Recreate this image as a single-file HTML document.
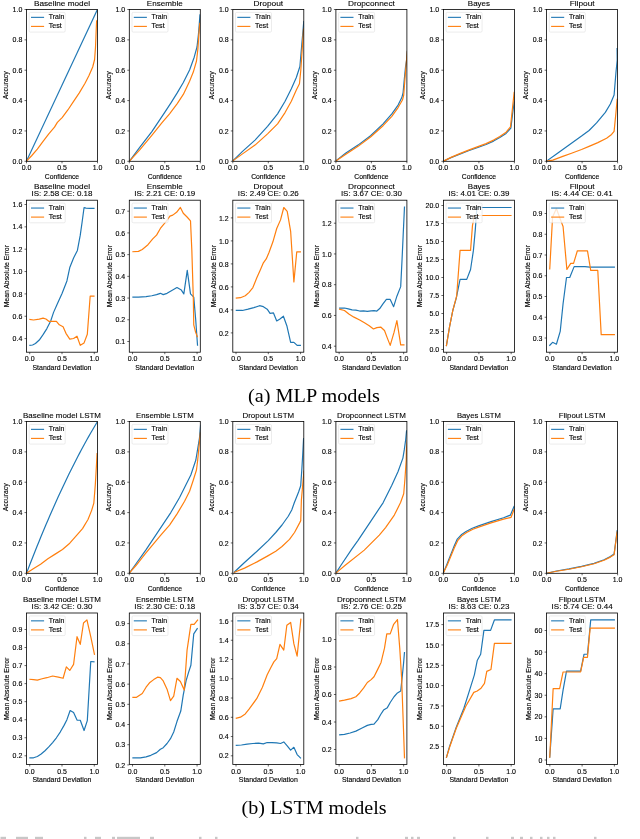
<!DOCTYPE html>
<html><head><meta charset="utf-8"><style>
html,body{margin:0;padding:0;background:#fff;}
body{width:640px;height:839px;overflow:hidden;}
svg{display:block;font-family:"Liberation Sans",sans-serif;will-change:transform;}
text{fill:#000;stroke:#000;stroke-width:0.12px;}
text.t{stroke-width:0.1px;}
</style></head><body>
<svg width="640" height="839" viewBox="0 0 640 839">
<rect width="640" height="839" fill="#fff"/>
<g>
<clipPath id="c00"><rect x="26.5" y="9.5" width="71.0" height="151.8"/></clipPath>
<polyline clip-path="url(#c00)" points="26.48,161.09 97.42,9.48" fill="none" stroke="#1f77b4" stroke-width="1.2" stroke-linejoin="round" stroke-linecap="butt"/>
<polyline clip-path="url(#c00)" points="26.48,161.09 31.63,155.75 37.35,149.07 43.07,141.45 48.79,133.82 54.51,127.14 57.37,122.38 62.14,117.61 67.86,109.98 73.58,101.40 79.30,92.82 85.03,83.28 89.00,75.40 92.70,67.00 94.60,59.50 95.50,47.30 96.00,35.10 96.60,21.10 97.40,20.00" fill="none" stroke="#ff7f0e" stroke-width="1.2" stroke-linejoin="round" stroke-linecap="butt"/>
<rect x="26.5" y="9.5" width="71.0" height="151.80" fill="none" stroke="#000" stroke-width="0.8"/>
<line x1="26.50" y1="161.30" x2="26.50" y2="163.30" stroke="#000" stroke-width="0.6"/>
<text x="26.50" y="170.45" font-size="6.46" text-anchor="middle" textLength="9.70" lengthAdjust="spacingAndGlyphs">0.0</text>
<line x1="62.00" y1="161.30" x2="62.00" y2="163.30" stroke="#000" stroke-width="0.6"/>
<text x="62.00" y="170.45" font-size="6.46" text-anchor="middle" textLength="9.70" lengthAdjust="spacingAndGlyphs">0.5</text>
<line x1="97.50" y1="161.30" x2="97.50" y2="163.30" stroke="#000" stroke-width="0.6"/>
<text x="97.50" y="170.45" font-size="6.46" text-anchor="middle" textLength="9.70" lengthAdjust="spacingAndGlyphs">1.0</text>
<line x1="24.50" y1="161.30" x2="26.50" y2="161.30" stroke="#000" stroke-width="0.6"/>
<text x="22.30" y="163.93" font-size="6.46" text-anchor="end" textLength="9.70" lengthAdjust="spacingAndGlyphs">0.0</text>
<line x1="24.50" y1="130.94" x2="26.50" y2="130.94" stroke="#000" stroke-width="0.6"/>
<text x="22.30" y="133.56" font-size="6.46" text-anchor="end" textLength="9.70" lengthAdjust="spacingAndGlyphs">0.2</text>
<line x1="24.50" y1="100.58" x2="26.50" y2="100.58" stroke="#000" stroke-width="0.6"/>
<text x="22.30" y="103.21" font-size="6.46" text-anchor="end" textLength="9.70" lengthAdjust="spacingAndGlyphs">0.4</text>
<line x1="24.50" y1="70.22" x2="26.50" y2="70.22" stroke="#000" stroke-width="0.6"/>
<text x="22.30" y="72.85" font-size="6.46" text-anchor="end" textLength="9.70" lengthAdjust="spacingAndGlyphs">0.6</text>
<line x1="24.50" y1="39.86" x2="26.50" y2="39.86" stroke="#000" stroke-width="0.6"/>
<text x="22.30" y="42.48" font-size="6.46" text-anchor="end" textLength="9.70" lengthAdjust="spacingAndGlyphs">0.8</text>
<line x1="24.50" y1="9.50" x2="26.50" y2="9.50" stroke="#000" stroke-width="0.6"/>
<text x="22.30" y="12.12" font-size="6.46" text-anchor="end" textLength="9.70" lengthAdjust="spacingAndGlyphs">1.0</text>
<text x="62.00" y="179.10" font-size="6.46" text-anchor="middle" textLength="34.30" lengthAdjust="spacingAndGlyphs">Confidence</text>
<text x="8.10" y="85.40" font-size="6.46" text-anchor="middle" textLength="27.96" lengthAdjust="spacingAndGlyphs" transform="rotate(-90 8.10 85.40)">Accuracy</text>
<text x="62.00" y="5.70" font-size="7.76" text-anchor="middle" textLength="56.15" lengthAdjust="spacingAndGlyphs" class="t">Baseline model</text>
<rect x="29.20" y="12.40" width="36.00" height="19.7" rx="1.2" fill="#fff" fill-opacity="0.8" stroke="#d8d8d8" stroke-width="0.5"/>
<line x1="31.00" y1="17.35" x2="44.10" y2="17.35" stroke="#1f77b4" stroke-width="1.1"/>
<line x1="31.00" y1="26.40" x2="44.10" y2="26.40" stroke="#ff7f0e" stroke-width="1.1"/>
<text x="48.80" y="19.40" font-size="6.46" text-anchor="start" textLength="15.53" lengthAdjust="spacingAndGlyphs">Train</text>
<text x="48.80" y="28.45" font-size="6.46" text-anchor="start" textLength="13.05" lengthAdjust="spacingAndGlyphs">Test</text>
<clipPath id="c20"><rect x="26.5" y="421.5" width="71.0" height="151.79999999999995"/></clipPath>
<polyline clip-path="url(#c20)" points="26.50,573.30 28.27,568.65 30.05,564.05 31.82,559.49 33.60,554.98 35.38,550.51 37.15,546.08 38.92,541.69 40.70,537.35 42.48,533.06 44.25,528.80 46.03,524.59 47.80,520.43 49.58,516.31 51.35,512.23 53.12,508.19 54.90,504.20 56.67,500.25 58.45,496.35 60.23,492.49 62.00,488.67 63.77,484.90 65.55,481.17 67.32,477.48 69.10,473.84 70.88,470.24 72.65,466.69 74.43,463.18 76.20,459.71 77.97,456.28 79.75,452.90 81.53,449.57 83.30,446.27 85.07,443.02 86.85,439.82 88.62,436.66 90.40,433.54 92.17,430.46 93.95,427.43 95.72,424.44 97.50,421.50" fill="none" stroke="#1f77b4" stroke-width="1.2" stroke-linejoin="round" stroke-linecap="butt"/>
<polyline clip-path="url(#c20)" points="26.36,573.27 33.29,568.71 40.59,564.15 47.88,558.68 55.18,554.12 62.47,549.56 69.77,543.18 77.06,534.97 82.53,528.59 88.00,519.47 91.65,510.36 93.84,503.06 95.30,484.83 96.39,466.59 97.12,452.91" fill="none" stroke="#ff7f0e" stroke-width="1.2" stroke-linejoin="round" stroke-linecap="butt"/>
<rect x="26.5" y="421.5" width="71.0" height="151.80" fill="none" stroke="#000" stroke-width="0.8"/>
<line x1="26.50" y1="573.30" x2="26.50" y2="575.30" stroke="#000" stroke-width="0.6"/>
<text x="26.50" y="582.45" font-size="6.46" text-anchor="middle" textLength="9.70" lengthAdjust="spacingAndGlyphs">0.0</text>
<line x1="62.00" y1="573.30" x2="62.00" y2="575.30" stroke="#000" stroke-width="0.6"/>
<text x="62.00" y="582.45" font-size="6.46" text-anchor="middle" textLength="9.70" lengthAdjust="spacingAndGlyphs">0.5</text>
<line x1="97.50" y1="573.30" x2="97.50" y2="575.30" stroke="#000" stroke-width="0.6"/>
<text x="97.50" y="582.45" font-size="6.46" text-anchor="middle" textLength="9.70" lengthAdjust="spacingAndGlyphs">1.0</text>
<line x1="24.50" y1="573.30" x2="26.50" y2="573.30" stroke="#000" stroke-width="0.6"/>
<text x="22.30" y="575.92" font-size="6.46" text-anchor="end" textLength="9.70" lengthAdjust="spacingAndGlyphs">0.0</text>
<line x1="24.50" y1="542.94" x2="26.50" y2="542.94" stroke="#000" stroke-width="0.6"/>
<text x="22.30" y="545.56" font-size="6.46" text-anchor="end" textLength="9.70" lengthAdjust="spacingAndGlyphs">0.2</text>
<line x1="24.50" y1="512.58" x2="26.50" y2="512.58" stroke="#000" stroke-width="0.6"/>
<text x="22.30" y="515.20" font-size="6.46" text-anchor="end" textLength="9.70" lengthAdjust="spacingAndGlyphs">0.4</text>
<line x1="24.50" y1="482.22" x2="26.50" y2="482.22" stroke="#000" stroke-width="0.6"/>
<text x="22.30" y="484.84" font-size="6.46" text-anchor="end" textLength="9.70" lengthAdjust="spacingAndGlyphs">0.6</text>
<line x1="24.50" y1="451.86" x2="26.50" y2="451.86" stroke="#000" stroke-width="0.6"/>
<text x="22.30" y="454.49" font-size="6.46" text-anchor="end" textLength="9.70" lengthAdjust="spacingAndGlyphs">0.8</text>
<line x1="24.50" y1="421.50" x2="26.50" y2="421.50" stroke="#000" stroke-width="0.6"/>
<text x="22.30" y="424.12" font-size="6.46" text-anchor="end" textLength="9.70" lengthAdjust="spacingAndGlyphs">1.0</text>
<text x="62.00" y="591.10" font-size="6.46" text-anchor="middle" textLength="34.30" lengthAdjust="spacingAndGlyphs">Confidence</text>
<text x="8.10" y="497.40" font-size="6.46" text-anchor="middle" textLength="27.96" lengthAdjust="spacingAndGlyphs" transform="rotate(-90 8.10 497.40)">Accuracy</text>
<text x="62.00" y="417.70" font-size="7.76" text-anchor="middle" textLength="77.99" lengthAdjust="spacingAndGlyphs" class="t">Baseline model LSTM</text>
<rect x="29.20" y="424.40" width="36.00" height="19.7" rx="1.2" fill="#fff" fill-opacity="0.8" stroke="#d8d8d8" stroke-width="0.5"/>
<line x1="31.00" y1="429.35" x2="44.10" y2="429.35" stroke="#1f77b4" stroke-width="1.1"/>
<line x1="31.00" y1="438.40" x2="44.10" y2="438.40" stroke="#ff7f0e" stroke-width="1.1"/>
<text x="48.80" y="431.40" font-size="6.46" text-anchor="start" textLength="15.53" lengthAdjust="spacingAndGlyphs">Train</text>
<text x="48.80" y="440.45" font-size="6.46" text-anchor="start" textLength="13.05" lengthAdjust="spacingAndGlyphs">Test</text>
<clipPath id="c01"><rect x="129.3" y="9.5" width="71.0" height="151.8"/></clipPath>
<polyline clip-path="url(#c01)" points="129.50,161.13 139.52,147.61 152.03,131.34 164.55,112.57 170.80,103.18 177.06,93.17 183.32,82.53 189.58,70.01 194.20,57.20 197.00,47.00 198.40,34.90 199.30,23.70 200.00,14.40" fill="none" stroke="#1f77b4" stroke-width="1.2" stroke-linejoin="round" stroke-linecap="butt"/>
<polyline clip-path="url(#c01)" points="129.50,161.13 139.52,150.11 152.03,135.09 162.04,122.58 169.55,113.82 177.06,103.80 183.32,94.42 189.58,81.28 193.30,72.10 196.50,61.00 197.90,48.90 198.80,34.90 199.80,22.80" fill="none" stroke="#ff7f0e" stroke-width="1.2" stroke-linejoin="round" stroke-linecap="butt"/>
<rect x="129.3" y="9.5" width="71.0" height="151.80" fill="none" stroke="#000" stroke-width="0.8"/>
<line x1="129.30" y1="161.30" x2="129.30" y2="163.30" stroke="#000" stroke-width="0.6"/>
<text x="129.30" y="170.45" font-size="6.46" text-anchor="middle" textLength="9.70" lengthAdjust="spacingAndGlyphs">0.0</text>
<line x1="164.80" y1="161.30" x2="164.80" y2="163.30" stroke="#000" stroke-width="0.6"/>
<text x="164.80" y="170.45" font-size="6.46" text-anchor="middle" textLength="9.70" lengthAdjust="spacingAndGlyphs">0.5</text>
<line x1="200.30" y1="161.30" x2="200.30" y2="163.30" stroke="#000" stroke-width="0.6"/>
<text x="200.30" y="170.45" font-size="6.46" text-anchor="middle" textLength="9.70" lengthAdjust="spacingAndGlyphs">1.0</text>
<line x1="127.30" y1="161.30" x2="129.30" y2="161.30" stroke="#000" stroke-width="0.6"/>
<text x="125.10" y="163.93" font-size="6.46" text-anchor="end" textLength="9.70" lengthAdjust="spacingAndGlyphs">0.0</text>
<line x1="127.30" y1="130.94" x2="129.30" y2="130.94" stroke="#000" stroke-width="0.6"/>
<text x="125.10" y="133.56" font-size="6.46" text-anchor="end" textLength="9.70" lengthAdjust="spacingAndGlyphs">0.2</text>
<line x1="127.30" y1="100.58" x2="129.30" y2="100.58" stroke="#000" stroke-width="0.6"/>
<text x="125.10" y="103.21" font-size="6.46" text-anchor="end" textLength="9.70" lengthAdjust="spacingAndGlyphs">0.4</text>
<line x1="127.30" y1="70.22" x2="129.30" y2="70.22" stroke="#000" stroke-width="0.6"/>
<text x="125.10" y="72.85" font-size="6.46" text-anchor="end" textLength="9.70" lengthAdjust="spacingAndGlyphs">0.6</text>
<line x1="127.30" y1="39.86" x2="129.30" y2="39.86" stroke="#000" stroke-width="0.6"/>
<text x="125.10" y="42.48" font-size="6.46" text-anchor="end" textLength="9.70" lengthAdjust="spacingAndGlyphs">0.8</text>
<line x1="127.30" y1="9.50" x2="129.30" y2="9.50" stroke="#000" stroke-width="0.6"/>
<text x="125.10" y="12.12" font-size="6.46" text-anchor="end" textLength="9.70" lengthAdjust="spacingAndGlyphs">1.0</text>
<text x="164.80" y="179.10" font-size="6.46" text-anchor="middle" textLength="34.30" lengthAdjust="spacingAndGlyphs">Confidence</text>
<text x="110.90" y="85.40" font-size="6.46" text-anchor="middle" textLength="27.96" lengthAdjust="spacingAndGlyphs" transform="rotate(-90 110.90 85.40)">Accuracy</text>
<text x="164.80" y="5.70" font-size="7.76" text-anchor="middle" textLength="35.90" lengthAdjust="spacingAndGlyphs" class="t">Ensemble</text>
<rect x="132.00" y="12.40" width="36.00" height="19.7" rx="1.2" fill="#fff" fill-opacity="0.8" stroke="#d8d8d8" stroke-width="0.5"/>
<line x1="133.80" y1="17.35" x2="146.90" y2="17.35" stroke="#1f77b4" stroke-width="1.1"/>
<line x1="133.80" y1="26.40" x2="146.90" y2="26.40" stroke="#ff7f0e" stroke-width="1.1"/>
<text x="151.60" y="19.40" font-size="6.46" text-anchor="start" textLength="15.53" lengthAdjust="spacingAndGlyphs">Train</text>
<text x="151.60" y="28.45" font-size="6.46" text-anchor="start" textLength="13.05" lengthAdjust="spacingAndGlyphs">Test</text>
<clipPath id="c21"><rect x="129.3" y="421.5" width="71.0" height="151.79999999999995"/></clipPath>
<polyline clip-path="url(#c21)" points="129.29,573.09 135.14,565.01 145.77,550.11 158.29,531.34 170.80,512.57 179.57,497.55 185.82,485.03 190.83,475.02 195.84,460.00 199.47,438.07 200.61,424.72" fill="none" stroke="#1f77b4" stroke-width="1.2" stroke-linejoin="round" stroke-linecap="butt"/>
<polyline clip-path="url(#c21)" points="129.29,573.09 136.39,565.01 145.77,553.24 160.79,535.09 169.55,525.08 177.06,513.82 184.57,501.30 189.58,491.29 193.33,480.03 196.46,470.01 197.71,460.00 199.09,445.70 200.42,432.35" fill="none" stroke="#ff7f0e" stroke-width="1.2" stroke-linejoin="round" stroke-linecap="butt"/>
<rect x="129.3" y="421.5" width="71.0" height="151.80" fill="none" stroke="#000" stroke-width="0.8"/>
<line x1="129.30" y1="573.30" x2="129.30" y2="575.30" stroke="#000" stroke-width="0.6"/>
<text x="129.30" y="582.45" font-size="6.46" text-anchor="middle" textLength="9.70" lengthAdjust="spacingAndGlyphs">0.0</text>
<line x1="164.80" y1="573.30" x2="164.80" y2="575.30" stroke="#000" stroke-width="0.6"/>
<text x="164.80" y="582.45" font-size="6.46" text-anchor="middle" textLength="9.70" lengthAdjust="spacingAndGlyphs">0.5</text>
<line x1="200.30" y1="573.30" x2="200.30" y2="575.30" stroke="#000" stroke-width="0.6"/>
<text x="200.30" y="582.45" font-size="6.46" text-anchor="middle" textLength="9.70" lengthAdjust="spacingAndGlyphs">1.0</text>
<line x1="127.30" y1="573.30" x2="129.30" y2="573.30" stroke="#000" stroke-width="0.6"/>
<text x="125.10" y="575.92" font-size="6.46" text-anchor="end" textLength="9.70" lengthAdjust="spacingAndGlyphs">0.0</text>
<line x1="127.30" y1="542.94" x2="129.30" y2="542.94" stroke="#000" stroke-width="0.6"/>
<text x="125.10" y="545.56" font-size="6.46" text-anchor="end" textLength="9.70" lengthAdjust="spacingAndGlyphs">0.2</text>
<line x1="127.30" y1="512.58" x2="129.30" y2="512.58" stroke="#000" stroke-width="0.6"/>
<text x="125.10" y="515.20" font-size="6.46" text-anchor="end" textLength="9.70" lengthAdjust="spacingAndGlyphs">0.4</text>
<line x1="127.30" y1="482.22" x2="129.30" y2="482.22" stroke="#000" stroke-width="0.6"/>
<text x="125.10" y="484.84" font-size="6.46" text-anchor="end" textLength="9.70" lengthAdjust="spacingAndGlyphs">0.6</text>
<line x1="127.30" y1="451.86" x2="129.30" y2="451.86" stroke="#000" stroke-width="0.6"/>
<text x="125.10" y="454.49" font-size="6.46" text-anchor="end" textLength="9.70" lengthAdjust="spacingAndGlyphs">0.8</text>
<line x1="127.30" y1="421.50" x2="129.30" y2="421.50" stroke="#000" stroke-width="0.6"/>
<text x="125.10" y="424.12" font-size="6.46" text-anchor="end" textLength="9.70" lengthAdjust="spacingAndGlyphs">1.0</text>
<text x="164.80" y="591.10" font-size="6.46" text-anchor="middle" textLength="34.30" lengthAdjust="spacingAndGlyphs">Confidence</text>
<text x="110.90" y="497.40" font-size="6.46" text-anchor="middle" textLength="27.96" lengthAdjust="spacingAndGlyphs" transform="rotate(-90 110.90 497.40)">Accuracy</text>
<text x="164.80" y="417.70" font-size="7.76" text-anchor="middle" textLength="57.73" lengthAdjust="spacingAndGlyphs" class="t">Ensemble LSTM</text>
<rect x="132.00" y="424.40" width="36.00" height="19.7" rx="1.2" fill="#fff" fill-opacity="0.8" stroke="#d8d8d8" stroke-width="0.5"/>
<line x1="133.80" y1="429.35" x2="146.90" y2="429.35" stroke="#1f77b4" stroke-width="1.1"/>
<line x1="133.80" y1="438.40" x2="146.90" y2="438.40" stroke="#ff7f0e" stroke-width="1.1"/>
<text x="151.60" y="431.40" font-size="6.46" text-anchor="start" textLength="15.53" lengthAdjust="spacingAndGlyphs">Train</text>
<text x="151.60" y="440.45" font-size="6.46" text-anchor="start" textLength="13.05" lengthAdjust="spacingAndGlyphs">Test</text>
<clipPath id="c02"><rect x="232.8" y="9.5" width="71.0" height="151.8"/></clipPath>
<polyline clip-path="url(#c02)" points="232.50,161.13 242.52,151.36 255.03,140.10 267.55,126.33 277.56,113.82 285.07,101.30 291.33,88.79 296.33,77.52 299.90,66.50 301.80,44.20 303.20,28.40 303.80,21.00" fill="none" stroke="#1f77b4" stroke-width="1.2" stroke-linejoin="round" stroke-linecap="butt"/>
<polyline clip-path="url(#c02)" points="232.50,161.13 242.52,153.87 255.03,145.11 267.55,133.84 277.56,123.83 285.07,112.57 291.33,101.30 296.33,90.04 299.46,83.78 300.80,70.30 302.20,48.90 303.60,28.40" fill="none" stroke="#ff7f0e" stroke-width="1.2" stroke-linejoin="round" stroke-linecap="butt"/>
<rect x="232.8" y="9.5" width="71.0" height="151.80" fill="none" stroke="#000" stroke-width="0.8"/>
<line x1="232.80" y1="161.30" x2="232.80" y2="163.30" stroke="#000" stroke-width="0.6"/>
<text x="232.80" y="170.45" font-size="6.46" text-anchor="middle" textLength="9.70" lengthAdjust="spacingAndGlyphs">0.0</text>
<line x1="268.30" y1="161.30" x2="268.30" y2="163.30" stroke="#000" stroke-width="0.6"/>
<text x="268.30" y="170.45" font-size="6.46" text-anchor="middle" textLength="9.70" lengthAdjust="spacingAndGlyphs">0.5</text>
<line x1="303.80" y1="161.30" x2="303.80" y2="163.30" stroke="#000" stroke-width="0.6"/>
<text x="303.80" y="170.45" font-size="6.46" text-anchor="middle" textLength="9.70" lengthAdjust="spacingAndGlyphs">1.0</text>
<line x1="230.80" y1="161.30" x2="232.80" y2="161.30" stroke="#000" stroke-width="0.6"/>
<text x="228.60" y="163.93" font-size="6.46" text-anchor="end" textLength="9.70" lengthAdjust="spacingAndGlyphs">0.0</text>
<line x1="230.80" y1="130.94" x2="232.80" y2="130.94" stroke="#000" stroke-width="0.6"/>
<text x="228.60" y="133.56" font-size="6.46" text-anchor="end" textLength="9.70" lengthAdjust="spacingAndGlyphs">0.2</text>
<line x1="230.80" y1="100.58" x2="232.80" y2="100.58" stroke="#000" stroke-width="0.6"/>
<text x="228.60" y="103.21" font-size="6.46" text-anchor="end" textLength="9.70" lengthAdjust="spacingAndGlyphs">0.4</text>
<line x1="230.80" y1="70.22" x2="232.80" y2="70.22" stroke="#000" stroke-width="0.6"/>
<text x="228.60" y="72.85" font-size="6.46" text-anchor="end" textLength="9.70" lengthAdjust="spacingAndGlyphs">0.6</text>
<line x1="230.80" y1="39.86" x2="232.80" y2="39.86" stroke="#000" stroke-width="0.6"/>
<text x="228.60" y="42.48" font-size="6.46" text-anchor="end" textLength="9.70" lengthAdjust="spacingAndGlyphs">0.8</text>
<line x1="230.80" y1="9.50" x2="232.80" y2="9.50" stroke="#000" stroke-width="0.6"/>
<text x="228.60" y="12.12" font-size="6.46" text-anchor="end" textLength="9.70" lengthAdjust="spacingAndGlyphs">1.0</text>
<text x="268.30" y="179.10" font-size="6.46" text-anchor="middle" textLength="34.30" lengthAdjust="spacingAndGlyphs">Confidence</text>
<text x="214.40" y="85.40" font-size="6.46" text-anchor="middle" textLength="27.96" lengthAdjust="spacingAndGlyphs" transform="rotate(-90 214.40 85.40)">Accuracy</text>
<text x="268.30" y="5.70" font-size="7.76" text-anchor="middle" textLength="29.76" lengthAdjust="spacingAndGlyphs" class="t">Dropout</text>
<rect x="235.50" y="12.40" width="36.00" height="19.7" rx="1.2" fill="#fff" fill-opacity="0.8" stroke="#d8d8d8" stroke-width="0.5"/>
<line x1="237.30" y1="17.35" x2="250.40" y2="17.35" stroke="#1f77b4" stroke-width="1.1"/>
<line x1="237.30" y1="26.40" x2="250.40" y2="26.40" stroke="#ff7f0e" stroke-width="1.1"/>
<text x="255.10" y="19.40" font-size="6.46" text-anchor="start" textLength="15.53" lengthAdjust="spacingAndGlyphs">Train</text>
<text x="255.10" y="28.45" font-size="6.46" text-anchor="start" textLength="13.05" lengthAdjust="spacingAndGlyphs">Test</text>
<clipPath id="c22"><rect x="232.8" y="421.5" width="71.0" height="151.79999999999995"/></clipPath>
<polyline clip-path="url(#c22)" points="233.88,572.50 244.50,562.50 257.00,551.25 268.25,540.62 275.75,532.50 282.00,525.00 288.25,516.25 291.75,510.00 294.20,503.00 296.60,497.00 298.60,492.00 300.70,485.80 301.80,470.00 302.70,455.00 303.60,438.10" fill="none" stroke="#1f77b4" stroke-width="1.2" stroke-linejoin="round" stroke-linecap="butt"/>
<polyline clip-path="url(#c22)" points="233.88,572.50 244.50,568.12 257.00,561.88 268.25,555.62 275.75,551.25 282.00,546.50 289.50,539.38 294.50,532.50 299.50,523.12 300.75,520.62 301.38,500.00 303.99,470.49" fill="none" stroke="#ff7f0e" stroke-width="1.2" stroke-linejoin="round" stroke-linecap="butt"/>
<rect x="232.8" y="421.5" width="71.0" height="151.80" fill="none" stroke="#000" stroke-width="0.8"/>
<line x1="232.80" y1="573.30" x2="232.80" y2="575.30" stroke="#000" stroke-width="0.6"/>
<text x="232.80" y="582.45" font-size="6.46" text-anchor="middle" textLength="9.70" lengthAdjust="spacingAndGlyphs">0.0</text>
<line x1="268.30" y1="573.30" x2="268.30" y2="575.30" stroke="#000" stroke-width="0.6"/>
<text x="268.30" y="582.45" font-size="6.46" text-anchor="middle" textLength="9.70" lengthAdjust="spacingAndGlyphs">0.5</text>
<line x1="303.80" y1="573.30" x2="303.80" y2="575.30" stroke="#000" stroke-width="0.6"/>
<text x="303.80" y="582.45" font-size="6.46" text-anchor="middle" textLength="9.70" lengthAdjust="spacingAndGlyphs">1.0</text>
<line x1="230.80" y1="573.30" x2="232.80" y2="573.30" stroke="#000" stroke-width="0.6"/>
<text x="228.60" y="575.92" font-size="6.46" text-anchor="end" textLength="9.70" lengthAdjust="spacingAndGlyphs">0.0</text>
<line x1="230.80" y1="542.94" x2="232.80" y2="542.94" stroke="#000" stroke-width="0.6"/>
<text x="228.60" y="545.56" font-size="6.46" text-anchor="end" textLength="9.70" lengthAdjust="spacingAndGlyphs">0.2</text>
<line x1="230.80" y1="512.58" x2="232.80" y2="512.58" stroke="#000" stroke-width="0.6"/>
<text x="228.60" y="515.20" font-size="6.46" text-anchor="end" textLength="9.70" lengthAdjust="spacingAndGlyphs">0.4</text>
<line x1="230.80" y1="482.22" x2="232.80" y2="482.22" stroke="#000" stroke-width="0.6"/>
<text x="228.60" y="484.84" font-size="6.46" text-anchor="end" textLength="9.70" lengthAdjust="spacingAndGlyphs">0.6</text>
<line x1="230.80" y1="451.86" x2="232.80" y2="451.86" stroke="#000" stroke-width="0.6"/>
<text x="228.60" y="454.49" font-size="6.46" text-anchor="end" textLength="9.70" lengthAdjust="spacingAndGlyphs">0.8</text>
<line x1="230.80" y1="421.50" x2="232.80" y2="421.50" stroke="#000" stroke-width="0.6"/>
<text x="228.60" y="424.12" font-size="6.46" text-anchor="end" textLength="9.70" lengthAdjust="spacingAndGlyphs">1.0</text>
<text x="268.30" y="591.10" font-size="6.46" text-anchor="middle" textLength="34.30" lengthAdjust="spacingAndGlyphs">Confidence</text>
<text x="214.40" y="497.40" font-size="6.46" text-anchor="middle" textLength="27.96" lengthAdjust="spacingAndGlyphs" transform="rotate(-90 214.40 497.40)">Accuracy</text>
<text x="268.30" y="417.70" font-size="7.76" text-anchor="middle" textLength="51.60" lengthAdjust="spacingAndGlyphs" class="t">Dropout LSTM</text>
<rect x="235.50" y="424.40" width="36.00" height="19.7" rx="1.2" fill="#fff" fill-opacity="0.8" stroke="#d8d8d8" stroke-width="0.5"/>
<line x1="237.30" y1="429.35" x2="250.40" y2="429.35" stroke="#1f77b4" stroke-width="1.1"/>
<line x1="237.30" y1="438.40" x2="250.40" y2="438.40" stroke="#ff7f0e" stroke-width="1.1"/>
<text x="255.10" y="431.40" font-size="6.46" text-anchor="start" textLength="15.53" lengthAdjust="spacingAndGlyphs">Train</text>
<text x="255.10" y="440.45" font-size="6.46" text-anchor="start" textLength="13.05" lengthAdjust="spacingAndGlyphs">Test</text>
<clipPath id="c03"><rect x="335.9" y="9.5" width="71.0" height="151.8"/></clipPath>
<polyline clip-path="url(#c03)" points="335.50,161.13 345.52,153.24 358.03,145.11 370.55,135.72 383.06,123.83 391.82,113.82 398.08,105.06 401.84,97.55 403.09,92.54 404.34,78.77 405.59,66.26 406.59,60.00 407.37,50.86" fill="none" stroke="#1f77b4" stroke-width="1.2" stroke-linejoin="round" stroke-linecap="butt"/>
<polyline clip-path="url(#c03)" points="335.50,161.13 345.52,154.49 358.03,146.36 370.55,136.97 383.06,125.71 391.82,116.32 398.08,107.56 402.46,100.05 403.71,95.04 404.96,78.77 406.22,63.75 407.37,50.86" fill="none" stroke="#ff7f0e" stroke-width="1.2" stroke-linejoin="round" stroke-linecap="butt"/>
<rect x="335.9" y="9.5" width="71.0" height="151.80" fill="none" stroke="#000" stroke-width="0.8"/>
<line x1="335.90" y1="161.30" x2="335.90" y2="163.30" stroke="#000" stroke-width="0.6"/>
<text x="335.90" y="170.45" font-size="6.46" text-anchor="middle" textLength="9.70" lengthAdjust="spacingAndGlyphs">0.0</text>
<line x1="371.40" y1="161.30" x2="371.40" y2="163.30" stroke="#000" stroke-width="0.6"/>
<text x="371.40" y="170.45" font-size="6.46" text-anchor="middle" textLength="9.70" lengthAdjust="spacingAndGlyphs">0.5</text>
<line x1="406.90" y1="161.30" x2="406.90" y2="163.30" stroke="#000" stroke-width="0.6"/>
<text x="406.90" y="170.45" font-size="6.46" text-anchor="middle" textLength="9.70" lengthAdjust="spacingAndGlyphs">1.0</text>
<line x1="333.90" y1="161.30" x2="335.90" y2="161.30" stroke="#000" stroke-width="0.6"/>
<text x="331.70" y="163.93" font-size="6.46" text-anchor="end" textLength="9.70" lengthAdjust="spacingAndGlyphs">0.0</text>
<line x1="333.90" y1="130.94" x2="335.90" y2="130.94" stroke="#000" stroke-width="0.6"/>
<text x="331.70" y="133.56" font-size="6.46" text-anchor="end" textLength="9.70" lengthAdjust="spacingAndGlyphs">0.2</text>
<line x1="333.90" y1="100.58" x2="335.90" y2="100.58" stroke="#000" stroke-width="0.6"/>
<text x="331.70" y="103.21" font-size="6.46" text-anchor="end" textLength="9.70" lengthAdjust="spacingAndGlyphs">0.4</text>
<line x1="333.90" y1="70.22" x2="335.90" y2="70.22" stroke="#000" stroke-width="0.6"/>
<text x="331.70" y="72.85" font-size="6.46" text-anchor="end" textLength="9.70" lengthAdjust="spacingAndGlyphs">0.6</text>
<line x1="333.90" y1="39.86" x2="335.90" y2="39.86" stroke="#000" stroke-width="0.6"/>
<text x="331.70" y="42.48" font-size="6.46" text-anchor="end" textLength="9.70" lengthAdjust="spacingAndGlyphs">0.8</text>
<line x1="333.90" y1="9.50" x2="335.90" y2="9.50" stroke="#000" stroke-width="0.6"/>
<text x="331.70" y="12.12" font-size="6.46" text-anchor="end" textLength="9.70" lengthAdjust="spacingAndGlyphs">1.0</text>
<text x="371.40" y="179.10" font-size="6.46" text-anchor="middle" textLength="34.30" lengthAdjust="spacingAndGlyphs">Confidence</text>
<text x="317.50" y="85.40" font-size="6.46" text-anchor="middle" textLength="27.96" lengthAdjust="spacingAndGlyphs" transform="rotate(-90 317.50 85.40)">Accuracy</text>
<text x="371.40" y="5.70" font-size="7.76" text-anchor="middle" textLength="46.95" lengthAdjust="spacingAndGlyphs" class="t">Dropconnect</text>
<rect x="338.60" y="12.40" width="36.00" height="19.7" rx="1.2" fill="#fff" fill-opacity="0.8" stroke="#d8d8d8" stroke-width="0.5"/>
<line x1="340.40" y1="17.35" x2="353.50" y2="17.35" stroke="#1f77b4" stroke-width="1.1"/>
<line x1="340.40" y1="26.40" x2="353.50" y2="26.40" stroke="#ff7f0e" stroke-width="1.1"/>
<text x="358.20" y="19.40" font-size="6.46" text-anchor="start" textLength="15.53" lengthAdjust="spacingAndGlyphs">Train</text>
<text x="358.20" y="28.45" font-size="6.46" text-anchor="start" textLength="13.05" lengthAdjust="spacingAndGlyphs">Test</text>
<clipPath id="c23"><rect x="335.9" y="421.5" width="71.0" height="151.79999999999995"/></clipPath>
<polyline clip-path="url(#c23)" points="335.86,573.09 341.14,565.01 351.77,549.11 358.03,540.35 370.55,521.58 383.06,502.80 391.82,485.28 398.08,471.51 402.90,458.10 404.30,449.70 405.70,439.50 406.60,430.20" fill="none" stroke="#1f77b4" stroke-width="1.2" stroke-linejoin="round" stroke-linecap="butt"/>
<polyline clip-path="url(#c23)" points="335.86,573.09 345.52,565.01 364.29,550.11 379.31,535.09 385.57,527.58 394.33,515.07 400.58,502.55 403.71,493.79 404.96,478.77 406.22,460.00 406.42,449.51 407.37,439.98" fill="none" stroke="#ff7f0e" stroke-width="1.2" stroke-linejoin="round" stroke-linecap="butt"/>
<rect x="335.9" y="421.5" width="71.0" height="151.80" fill="none" stroke="#000" stroke-width="0.8"/>
<line x1="335.90" y1="573.30" x2="335.90" y2="575.30" stroke="#000" stroke-width="0.6"/>
<text x="335.90" y="582.45" font-size="6.46" text-anchor="middle" textLength="9.70" lengthAdjust="spacingAndGlyphs">0.0</text>
<line x1="371.40" y1="573.30" x2="371.40" y2="575.30" stroke="#000" stroke-width="0.6"/>
<text x="371.40" y="582.45" font-size="6.46" text-anchor="middle" textLength="9.70" lengthAdjust="spacingAndGlyphs">0.5</text>
<line x1="406.90" y1="573.30" x2="406.90" y2="575.30" stroke="#000" stroke-width="0.6"/>
<text x="406.90" y="582.45" font-size="6.46" text-anchor="middle" textLength="9.70" lengthAdjust="spacingAndGlyphs">1.0</text>
<line x1="333.90" y1="573.30" x2="335.90" y2="573.30" stroke="#000" stroke-width="0.6"/>
<text x="331.70" y="575.92" font-size="6.46" text-anchor="end" textLength="9.70" lengthAdjust="spacingAndGlyphs">0.0</text>
<line x1="333.90" y1="542.94" x2="335.90" y2="542.94" stroke="#000" stroke-width="0.6"/>
<text x="331.70" y="545.56" font-size="6.46" text-anchor="end" textLength="9.70" lengthAdjust="spacingAndGlyphs">0.2</text>
<line x1="333.90" y1="512.58" x2="335.90" y2="512.58" stroke="#000" stroke-width="0.6"/>
<text x="331.70" y="515.20" font-size="6.46" text-anchor="end" textLength="9.70" lengthAdjust="spacingAndGlyphs">0.4</text>
<line x1="333.90" y1="482.22" x2="335.90" y2="482.22" stroke="#000" stroke-width="0.6"/>
<text x="331.70" y="484.84" font-size="6.46" text-anchor="end" textLength="9.70" lengthAdjust="spacingAndGlyphs">0.6</text>
<line x1="333.90" y1="451.86" x2="335.90" y2="451.86" stroke="#000" stroke-width="0.6"/>
<text x="331.70" y="454.49" font-size="6.46" text-anchor="end" textLength="9.70" lengthAdjust="spacingAndGlyphs">0.8</text>
<line x1="333.90" y1="421.50" x2="335.90" y2="421.50" stroke="#000" stroke-width="0.6"/>
<text x="331.70" y="424.12" font-size="6.46" text-anchor="end" textLength="9.70" lengthAdjust="spacingAndGlyphs">1.0</text>
<text x="371.40" y="591.10" font-size="6.46" text-anchor="middle" textLength="34.30" lengthAdjust="spacingAndGlyphs">Confidence</text>
<text x="317.50" y="497.40" font-size="6.46" text-anchor="middle" textLength="27.96" lengthAdjust="spacingAndGlyphs" transform="rotate(-90 317.50 497.40)">Accuracy</text>
<text x="371.40" y="417.70" font-size="7.76" text-anchor="middle" textLength="68.79" lengthAdjust="spacingAndGlyphs" class="t">Dropconnect LSTM</text>
<rect x="338.60" y="424.40" width="36.00" height="19.7" rx="1.2" fill="#fff" fill-opacity="0.8" stroke="#d8d8d8" stroke-width="0.5"/>
<line x1="340.40" y1="429.35" x2="353.50" y2="429.35" stroke="#1f77b4" stroke-width="1.1"/>
<line x1="340.40" y1="438.40" x2="353.50" y2="438.40" stroke="#ff7f0e" stroke-width="1.1"/>
<text x="358.20" y="431.40" font-size="6.46" text-anchor="start" textLength="15.53" lengthAdjust="spacingAndGlyphs">Train</text>
<text x="358.20" y="440.45" font-size="6.46" text-anchor="start" textLength="13.05" lengthAdjust="spacingAndGlyphs">Test</text>
<clipPath id="c04"><rect x="443.4" y="9.5" width="71.0" height="151.8"/></clipPath>
<polyline clip-path="url(#c04)" points="443.50,161.13 451.01,157.62 459.77,154.12 468.53,150.74 478.55,147.23 486.06,144.48 493.57,141.10 499.82,137.60 506.08,133.47 510.84,128.21 512.59,113.82 514.22,101.30" fill="none" stroke="#1f77b4" stroke-width="1.2" stroke-linejoin="round" stroke-linecap="butt"/>
<polyline clip-path="url(#c04)" points="443.50,161.13 451.01,157.37 459.77,153.62 468.53,150.11 478.55,146.36 486.06,143.60 493.57,140.10 499.82,136.60 506.08,132.22 510.46,126.96 514.22,91.91" fill="none" stroke="#ff7f0e" stroke-width="1.2" stroke-linejoin="round" stroke-linecap="butt"/>
<rect x="443.4" y="9.5" width="71.0" height="151.80" fill="none" stroke="#000" stroke-width="0.8"/>
<line x1="443.40" y1="161.30" x2="443.40" y2="163.30" stroke="#000" stroke-width="0.6"/>
<text x="443.40" y="170.45" font-size="6.46" text-anchor="middle" textLength="9.70" lengthAdjust="spacingAndGlyphs">0.0</text>
<line x1="478.90" y1="161.30" x2="478.90" y2="163.30" stroke="#000" stroke-width="0.6"/>
<text x="478.90" y="170.45" font-size="6.46" text-anchor="middle" textLength="9.70" lengthAdjust="spacingAndGlyphs">0.5</text>
<line x1="514.40" y1="161.30" x2="514.40" y2="163.30" stroke="#000" stroke-width="0.6"/>
<text x="514.40" y="170.45" font-size="6.46" text-anchor="middle" textLength="9.70" lengthAdjust="spacingAndGlyphs">1.0</text>
<line x1="441.40" y1="161.30" x2="443.40" y2="161.30" stroke="#000" stroke-width="0.6"/>
<text x="439.20" y="163.93" font-size="6.46" text-anchor="end" textLength="9.70" lengthAdjust="spacingAndGlyphs">0.0</text>
<line x1="441.40" y1="130.94" x2="443.40" y2="130.94" stroke="#000" stroke-width="0.6"/>
<text x="439.20" y="133.56" font-size="6.46" text-anchor="end" textLength="9.70" lengthAdjust="spacingAndGlyphs">0.2</text>
<line x1="441.40" y1="100.58" x2="443.40" y2="100.58" stroke="#000" stroke-width="0.6"/>
<text x="439.20" y="103.21" font-size="6.46" text-anchor="end" textLength="9.70" lengthAdjust="spacingAndGlyphs">0.4</text>
<line x1="441.40" y1="70.22" x2="443.40" y2="70.22" stroke="#000" stroke-width="0.6"/>
<text x="439.20" y="72.85" font-size="6.46" text-anchor="end" textLength="9.70" lengthAdjust="spacingAndGlyphs">0.6</text>
<line x1="441.40" y1="39.86" x2="443.40" y2="39.86" stroke="#000" stroke-width="0.6"/>
<text x="439.20" y="42.48" font-size="6.46" text-anchor="end" textLength="9.70" lengthAdjust="spacingAndGlyphs">0.8</text>
<line x1="441.40" y1="9.50" x2="443.40" y2="9.50" stroke="#000" stroke-width="0.6"/>
<text x="439.20" y="12.12" font-size="6.46" text-anchor="end" textLength="9.70" lengthAdjust="spacingAndGlyphs">1.0</text>
<text x="478.90" y="179.10" font-size="6.46" text-anchor="middle" textLength="34.30" lengthAdjust="spacingAndGlyphs">Confidence</text>
<text x="425.00" y="85.40" font-size="6.46" text-anchor="middle" textLength="27.96" lengthAdjust="spacingAndGlyphs" transform="rotate(-90 425.00 85.40)">Accuracy</text>
<text x="478.90" y="5.70" font-size="7.76" text-anchor="middle" textLength="22.16" lengthAdjust="spacingAndGlyphs" class="t">Bayes</text>
<rect x="446.10" y="12.40" width="36.00" height="19.7" rx="1.2" fill="#fff" fill-opacity="0.8" stroke="#d8d8d8" stroke-width="0.5"/>
<line x1="447.90" y1="17.35" x2="461.00" y2="17.35" stroke="#1f77b4" stroke-width="1.1"/>
<line x1="447.90" y1="26.40" x2="461.00" y2="26.40" stroke="#ff7f0e" stroke-width="1.1"/>
<text x="465.70" y="19.40" font-size="6.46" text-anchor="start" textLength="15.53" lengthAdjust="spacingAndGlyphs">Train</text>
<text x="465.70" y="28.45" font-size="6.46" text-anchor="start" textLength="13.05" lengthAdjust="spacingAndGlyphs">Test</text>
<clipPath id="c24"><rect x="443.4" y="421.5" width="71.0" height="151.79999999999995"/></clipPath>
<polyline clip-path="url(#c24)" points="443.29,573.09 446.63,565.01 453.52,547.61 457.27,539.10 461.65,534.47 466.03,531.59 472.29,528.21 478.55,525.83 491.06,521.58 503.58,517.70 510.46,515.07 514.22,506.06" fill="none" stroke="#1f77b4" stroke-width="1.2" stroke-linejoin="round" stroke-linecap="butt"/>
<polyline clip-path="url(#c24)" points="443.29,573.09 447.26,565.01 454.14,548.24 457.90,540.35 462.28,535.47 466.66,532.59 472.91,529.21 478.55,527.08 491.06,522.83 503.58,519.07 511.09,517.32 514.22,509.06" fill="none" stroke="#ff7f0e" stroke-width="1.2" stroke-linejoin="round" stroke-linecap="butt"/>
<rect x="443.4" y="421.5" width="71.0" height="151.80" fill="none" stroke="#000" stroke-width="0.8"/>
<line x1="443.40" y1="573.30" x2="443.40" y2="575.30" stroke="#000" stroke-width="0.6"/>
<text x="443.40" y="582.45" font-size="6.46" text-anchor="middle" textLength="9.70" lengthAdjust="spacingAndGlyphs">0.0</text>
<line x1="478.90" y1="573.30" x2="478.90" y2="575.30" stroke="#000" stroke-width="0.6"/>
<text x="478.90" y="582.45" font-size="6.46" text-anchor="middle" textLength="9.70" lengthAdjust="spacingAndGlyphs">0.5</text>
<line x1="514.40" y1="573.30" x2="514.40" y2="575.30" stroke="#000" stroke-width="0.6"/>
<text x="514.40" y="582.45" font-size="6.46" text-anchor="middle" textLength="9.70" lengthAdjust="spacingAndGlyphs">1.0</text>
<line x1="441.40" y1="573.30" x2="443.40" y2="573.30" stroke="#000" stroke-width="0.6"/>
<text x="439.20" y="575.92" font-size="6.46" text-anchor="end" textLength="9.70" lengthAdjust="spacingAndGlyphs">0.0</text>
<line x1="441.40" y1="542.94" x2="443.40" y2="542.94" stroke="#000" stroke-width="0.6"/>
<text x="439.20" y="545.56" font-size="6.46" text-anchor="end" textLength="9.70" lengthAdjust="spacingAndGlyphs">0.2</text>
<line x1="441.40" y1="512.58" x2="443.40" y2="512.58" stroke="#000" stroke-width="0.6"/>
<text x="439.20" y="515.20" font-size="6.46" text-anchor="end" textLength="9.70" lengthAdjust="spacingAndGlyphs">0.4</text>
<line x1="441.40" y1="482.22" x2="443.40" y2="482.22" stroke="#000" stroke-width="0.6"/>
<text x="439.20" y="484.84" font-size="6.46" text-anchor="end" textLength="9.70" lengthAdjust="spacingAndGlyphs">0.6</text>
<line x1="441.40" y1="451.86" x2="443.40" y2="451.86" stroke="#000" stroke-width="0.6"/>
<text x="439.20" y="454.49" font-size="6.46" text-anchor="end" textLength="9.70" lengthAdjust="spacingAndGlyphs">0.8</text>
<line x1="441.40" y1="421.50" x2="443.40" y2="421.50" stroke="#000" stroke-width="0.6"/>
<text x="439.20" y="424.12" font-size="6.46" text-anchor="end" textLength="9.70" lengthAdjust="spacingAndGlyphs">1.0</text>
<text x="478.90" y="591.10" font-size="6.46" text-anchor="middle" textLength="34.30" lengthAdjust="spacingAndGlyphs">Confidence</text>
<text x="425.00" y="497.40" font-size="6.46" text-anchor="middle" textLength="27.96" lengthAdjust="spacingAndGlyphs" transform="rotate(-90 425.00 497.40)">Accuracy</text>
<text x="478.90" y="417.70" font-size="7.76" text-anchor="middle" textLength="44.00" lengthAdjust="spacingAndGlyphs" class="t">Bayes LSTM</text>
<rect x="446.10" y="424.40" width="36.00" height="19.7" rx="1.2" fill="#fff" fill-opacity="0.8" stroke="#d8d8d8" stroke-width="0.5"/>
<line x1="447.90" y1="429.35" x2="461.00" y2="429.35" stroke="#1f77b4" stroke-width="1.1"/>
<line x1="447.90" y1="438.40" x2="461.00" y2="438.40" stroke="#ff7f0e" stroke-width="1.1"/>
<text x="465.70" y="431.40" font-size="6.46" text-anchor="start" textLength="15.53" lengthAdjust="spacingAndGlyphs">Train</text>
<text x="465.70" y="440.45" font-size="6.46" text-anchor="start" textLength="13.05" lengthAdjust="spacingAndGlyphs">Test</text>
<clipPath id="c05"><rect x="546.6" y="9.5" width="71.0" height="151.8"/></clipPath>
<polyline clip-path="url(#c05)" points="546.50,161.13 556.52,153.99 569.03,144.98 581.55,136.10 589.06,130.46 596.57,122.95 605.33,112.32 610.33,104.06 614.09,95.04 615.96,72.52 617.22,60.00 617.10,48.10" fill="none" stroke="#1f77b4" stroke-width="1.2" stroke-linejoin="round" stroke-linecap="butt"/>
<polyline clip-path="url(#c05)" points="546.50,161.13 552.76,160.13 562.77,156.37 571.53,153.24 581.55,149.49 589.06,146.36 597.82,142.60 606.58,138.22 611.58,134.47 614.09,131.34 615.96,112.57 617.22,98.80" fill="none" stroke="#ff7f0e" stroke-width="1.2" stroke-linejoin="round" stroke-linecap="butt"/>
<rect x="546.6" y="9.5" width="71.0" height="151.80" fill="none" stroke="#000" stroke-width="0.8"/>
<line x1="546.60" y1="161.30" x2="546.60" y2="163.30" stroke="#000" stroke-width="0.6"/>
<text x="546.60" y="170.45" font-size="6.46" text-anchor="middle" textLength="9.70" lengthAdjust="spacingAndGlyphs">0.0</text>
<line x1="582.10" y1="161.30" x2="582.10" y2="163.30" stroke="#000" stroke-width="0.6"/>
<text x="582.10" y="170.45" font-size="6.46" text-anchor="middle" textLength="9.70" lengthAdjust="spacingAndGlyphs">0.5</text>
<line x1="617.60" y1="161.30" x2="617.60" y2="163.30" stroke="#000" stroke-width="0.6"/>
<text x="617.60" y="170.45" font-size="6.46" text-anchor="middle" textLength="9.70" lengthAdjust="spacingAndGlyphs">1.0</text>
<line x1="544.60" y1="161.30" x2="546.60" y2="161.30" stroke="#000" stroke-width="0.6"/>
<text x="542.40" y="163.93" font-size="6.46" text-anchor="end" textLength="9.70" lengthAdjust="spacingAndGlyphs">0.0</text>
<line x1="544.60" y1="130.94" x2="546.60" y2="130.94" stroke="#000" stroke-width="0.6"/>
<text x="542.40" y="133.56" font-size="6.46" text-anchor="end" textLength="9.70" lengthAdjust="spacingAndGlyphs">0.2</text>
<line x1="544.60" y1="100.58" x2="546.60" y2="100.58" stroke="#000" stroke-width="0.6"/>
<text x="542.40" y="103.21" font-size="6.46" text-anchor="end" textLength="9.70" lengthAdjust="spacingAndGlyphs">0.4</text>
<line x1="544.60" y1="70.22" x2="546.60" y2="70.22" stroke="#000" stroke-width="0.6"/>
<text x="542.40" y="72.85" font-size="6.46" text-anchor="end" textLength="9.70" lengthAdjust="spacingAndGlyphs">0.6</text>
<line x1="544.60" y1="39.86" x2="546.60" y2="39.86" stroke="#000" stroke-width="0.6"/>
<text x="542.40" y="42.48" font-size="6.46" text-anchor="end" textLength="9.70" lengthAdjust="spacingAndGlyphs">0.8</text>
<line x1="544.60" y1="9.50" x2="546.60" y2="9.50" stroke="#000" stroke-width="0.6"/>
<text x="542.40" y="12.12" font-size="6.46" text-anchor="end" textLength="9.70" lengthAdjust="spacingAndGlyphs">1.0</text>
<text x="582.10" y="179.10" font-size="6.46" text-anchor="middle" textLength="34.30" lengthAdjust="spacingAndGlyphs">Confidence</text>
<text x="528.20" y="85.40" font-size="6.46" text-anchor="middle" textLength="27.96" lengthAdjust="spacingAndGlyphs" transform="rotate(-90 528.20 85.40)">Accuracy</text>
<text x="582.10" y="5.70" font-size="7.76" text-anchor="middle" textLength="24.91" lengthAdjust="spacingAndGlyphs" class="t">Flipout</text>
<rect x="549.30" y="12.40" width="36.00" height="19.7" rx="1.2" fill="#fff" fill-opacity="0.8" stroke="#d8d8d8" stroke-width="0.5"/>
<line x1="551.10" y1="17.35" x2="564.20" y2="17.35" stroke="#1f77b4" stroke-width="1.1"/>
<line x1="551.10" y1="26.40" x2="564.20" y2="26.40" stroke="#ff7f0e" stroke-width="1.1"/>
<text x="568.90" y="19.40" font-size="6.46" text-anchor="start" textLength="15.53" lengthAdjust="spacingAndGlyphs">Train</text>
<text x="568.90" y="28.45" font-size="6.46" text-anchor="start" textLength="13.05" lengthAdjust="spacingAndGlyphs">Test</text>
<clipPath id="c25"><rect x="546.6" y="421.5" width="71.0" height="151.79999999999995"/></clipPath>
<polyline clip-path="url(#c25)" points="546.50,573.24 556.52,570.99 569.03,568.86 581.55,566.36 594.06,563.35 604.08,559.72 610.33,556.60 614.09,554.09 617.22,530.06" fill="none" stroke="#1f77b4" stroke-width="1.2" stroke-linejoin="round" stroke-linecap="butt"/>
<polyline clip-path="url(#c25)" points="546.50,573.24 556.52,571.24 569.03,569.24 581.55,566.73 594.06,563.73 604.08,560.23 610.33,557.10 614.09,554.72 617.22,531.31" fill="none" stroke="#ff7f0e" stroke-width="1.2" stroke-linejoin="round" stroke-linecap="butt"/>
<rect x="546.6" y="421.5" width="71.0" height="151.80" fill="none" stroke="#000" stroke-width="0.8"/>
<line x1="546.60" y1="573.30" x2="546.60" y2="575.30" stroke="#000" stroke-width="0.6"/>
<text x="546.60" y="582.45" font-size="6.46" text-anchor="middle" textLength="9.70" lengthAdjust="spacingAndGlyphs">0.0</text>
<line x1="582.10" y1="573.30" x2="582.10" y2="575.30" stroke="#000" stroke-width="0.6"/>
<text x="582.10" y="582.45" font-size="6.46" text-anchor="middle" textLength="9.70" lengthAdjust="spacingAndGlyphs">0.5</text>
<line x1="617.60" y1="573.30" x2="617.60" y2="575.30" stroke="#000" stroke-width="0.6"/>
<text x="617.60" y="582.45" font-size="6.46" text-anchor="middle" textLength="9.70" lengthAdjust="spacingAndGlyphs">1.0</text>
<line x1="544.60" y1="573.30" x2="546.60" y2="573.30" stroke="#000" stroke-width="0.6"/>
<text x="542.40" y="575.92" font-size="6.46" text-anchor="end" textLength="9.70" lengthAdjust="spacingAndGlyphs">0.0</text>
<line x1="544.60" y1="542.94" x2="546.60" y2="542.94" stroke="#000" stroke-width="0.6"/>
<text x="542.40" y="545.56" font-size="6.46" text-anchor="end" textLength="9.70" lengthAdjust="spacingAndGlyphs">0.2</text>
<line x1="544.60" y1="512.58" x2="546.60" y2="512.58" stroke="#000" stroke-width="0.6"/>
<text x="542.40" y="515.20" font-size="6.46" text-anchor="end" textLength="9.70" lengthAdjust="spacingAndGlyphs">0.4</text>
<line x1="544.60" y1="482.22" x2="546.60" y2="482.22" stroke="#000" stroke-width="0.6"/>
<text x="542.40" y="484.84" font-size="6.46" text-anchor="end" textLength="9.70" lengthAdjust="spacingAndGlyphs">0.6</text>
<line x1="544.60" y1="451.86" x2="546.60" y2="451.86" stroke="#000" stroke-width="0.6"/>
<text x="542.40" y="454.49" font-size="6.46" text-anchor="end" textLength="9.70" lengthAdjust="spacingAndGlyphs">0.8</text>
<line x1="544.60" y1="421.50" x2="546.60" y2="421.50" stroke="#000" stroke-width="0.6"/>
<text x="542.40" y="424.12" font-size="6.46" text-anchor="end" textLength="9.70" lengthAdjust="spacingAndGlyphs">1.0</text>
<text x="582.10" y="591.10" font-size="6.46" text-anchor="middle" textLength="34.30" lengthAdjust="spacingAndGlyphs">Confidence</text>
<text x="528.20" y="497.40" font-size="6.46" text-anchor="middle" textLength="27.96" lengthAdjust="spacingAndGlyphs" transform="rotate(-90 528.20 497.40)">Accuracy</text>
<text x="582.10" y="417.70" font-size="7.76" text-anchor="middle" textLength="46.75" lengthAdjust="spacingAndGlyphs" class="t">Flipout LSTM</text>
<rect x="549.30" y="424.40" width="36.00" height="19.7" rx="1.2" fill="#fff" fill-opacity="0.8" stroke="#d8d8d8" stroke-width="0.5"/>
<line x1="551.10" y1="429.35" x2="564.20" y2="429.35" stroke="#1f77b4" stroke-width="1.1"/>
<line x1="551.10" y1="438.40" x2="564.20" y2="438.40" stroke="#ff7f0e" stroke-width="1.1"/>
<text x="568.90" y="431.40" font-size="6.46" text-anchor="start" textLength="15.53" lengthAdjust="spacingAndGlyphs">Train</text>
<text x="568.90" y="440.45" font-size="6.46" text-anchor="start" textLength="13.05" lengthAdjust="spacingAndGlyphs">Test</text>
<clipPath id="c10"><rect x="26.5" y="200.2" width="71.0" height="152.0"/></clipPath>
<polyline clip-path="url(#c10)" points="29.34,345.37 32.58,344.99 35.44,343.46 39.26,340.03 43.07,334.69 46.88,328.59 50.70,320.96 53.56,312.38 57.37,303.79 62.14,293.31 66.91,280.91 69.77,267.56 73.58,258.03 77.40,250.40 80.26,235.14 82.16,221.79 84.07,207.49 85.98,208.06 89.79,208.44 94.56,208.44" fill="none" stroke="#1f77b4" stroke-width="1.2" stroke-linejoin="round" stroke-linecap="butt"/>
<polyline clip-path="url(#c10)" points="29.34,319.43 33.54,320.00 39.26,319.05 43.07,318.10 45.93,319.05 48.79,321.34 52.61,321.34 56.42,321.34 59.28,324.77 63.09,326.68 65.95,333.35 69.77,339.07 73.58,338.50 77.02,336.21 80.26,345.37 84.07,342.89 87.31,334.31 90.17,296.17 94.56,296.17" fill="none" stroke="#ff7f0e" stroke-width="1.2" stroke-linejoin="round" stroke-linecap="butt"/>
<rect x="26.5" y="200.2" width="71.0" height="152.00" fill="none" stroke="#000" stroke-width="0.8"/>
<line x1="29.73" y1="352.20" x2="29.73" y2="354.20" stroke="#000" stroke-width="0.6"/>
<text x="29.73" y="361.35" font-size="6.46" text-anchor="middle" textLength="9.70" lengthAdjust="spacingAndGlyphs">0.0</text>
<line x1="62.00" y1="352.20" x2="62.00" y2="354.20" stroke="#000" stroke-width="0.6"/>
<text x="62.00" y="361.35" font-size="6.46" text-anchor="middle" textLength="9.70" lengthAdjust="spacingAndGlyphs">0.5</text>
<line x1="94.27" y1="352.20" x2="94.27" y2="354.20" stroke="#000" stroke-width="0.6"/>
<text x="94.27" y="361.35" font-size="6.46" text-anchor="middle" textLength="9.70" lengthAdjust="spacingAndGlyphs">1.0</text>
<line x1="24.50" y1="338.60" x2="26.50" y2="338.60" stroke="#000" stroke-width="0.6"/>
<text x="22.30" y="341.22" font-size="6.46" text-anchor="end" textLength="9.70" lengthAdjust="spacingAndGlyphs">0.4</text>
<line x1="24.50" y1="316.25" x2="26.50" y2="316.25" stroke="#000" stroke-width="0.6"/>
<text x="22.30" y="318.88" font-size="6.46" text-anchor="end" textLength="9.70" lengthAdjust="spacingAndGlyphs">0.6</text>
<line x1="24.50" y1="293.90" x2="26.50" y2="293.90" stroke="#000" stroke-width="0.6"/>
<text x="22.30" y="296.52" font-size="6.46" text-anchor="end" textLength="9.70" lengthAdjust="spacingAndGlyphs">0.8</text>
<line x1="24.50" y1="271.55" x2="26.50" y2="271.55" stroke="#000" stroke-width="0.6"/>
<text x="22.30" y="274.17" font-size="6.46" text-anchor="end" textLength="9.70" lengthAdjust="spacingAndGlyphs">1.0</text>
<line x1="24.50" y1="249.20" x2="26.50" y2="249.20" stroke="#000" stroke-width="0.6"/>
<text x="22.30" y="251.82" font-size="6.46" text-anchor="end" textLength="9.70" lengthAdjust="spacingAndGlyphs">1.2</text>
<line x1="24.50" y1="226.85" x2="26.50" y2="226.85" stroke="#000" stroke-width="0.6"/>
<text x="22.30" y="229.48" font-size="6.46" text-anchor="end" textLength="9.70" lengthAdjust="spacingAndGlyphs">1.4</text>
<line x1="24.50" y1="204.50" x2="26.50" y2="204.50" stroke="#000" stroke-width="0.6"/>
<text x="22.30" y="207.12" font-size="6.46" text-anchor="end" textLength="9.70" lengthAdjust="spacingAndGlyphs">1.6</text>
<text x="62.00" y="370.00" font-size="6.46" text-anchor="middle" textLength="58.97" lengthAdjust="spacingAndGlyphs">Standard Deviation</text>
<text x="8.80" y="276.20" font-size="6.46" text-anchor="middle" textLength="62.27" lengthAdjust="spacingAndGlyphs" transform="rotate(-90 8.80 276.20)">Mean Absolute Error</text>
<text x="62.00" y="188.70" font-size="7.76" text-anchor="middle" textLength="56.15" lengthAdjust="spacingAndGlyphs" class="t">Baseline model</text>
<text x="62.00" y="196.40" font-size="7.76" text-anchor="middle" textLength="61.05" lengthAdjust="spacingAndGlyphs" class="t">IS: 2.58 CE: 0.18</text>
<rect x="29.20" y="203.10" width="36.00" height="19.7" rx="1.2" fill="#fff" fill-opacity="0.8" stroke="#d8d8d8" stroke-width="0.5"/>
<line x1="31.00" y1="208.05" x2="44.10" y2="208.05" stroke="#1f77b4" stroke-width="1.1"/>
<line x1="31.00" y1="217.10" x2="44.10" y2="217.10" stroke="#ff7f0e" stroke-width="1.1"/>
<text x="48.80" y="210.10" font-size="6.46" text-anchor="start" textLength="15.53" lengthAdjust="spacingAndGlyphs">Train</text>
<text x="48.80" y="219.15" font-size="6.46" text-anchor="start" textLength="13.05" lengthAdjust="spacingAndGlyphs">Test</text>
<clipPath id="c30"><rect x="26.5" y="613.0" width="71.0" height="151.5"/></clipPath>
<polyline clip-path="url(#c30)" points="29.34,757.79 33.54,757.79 37.35,756.46 41.16,753.98 44.98,750.74 48.79,746.92 52.61,742.54 56.42,737.77 60.23,732.05 64.05,725.38 66.91,719.65 70.15,710.50 73.58,712.60 77.02,720.04 80.26,720.23 84.07,730.52 87.31,720.61 90.75,661.49 94.56,661.87" fill="none" stroke="#1f77b4" stroke-width="1.2" stroke-linejoin="round" stroke-linecap="butt"/>
<polyline clip-path="url(#c30)" points="29.34,679.23 33.54,679.61 37.35,680.18 41.16,679.03 46.88,677.70 52.61,675.98 58.33,677.13 63.09,678.27 66.34,666.83 69.77,670.45 73.58,664.35 77.02,636.70 80.26,644.33 83.50,622.97 86.93,619.92 90.75,636.70 94.56,654.82" fill="none" stroke="#ff7f0e" stroke-width="1.2" stroke-linejoin="round" stroke-linecap="butt"/>
<rect x="26.5" y="613.0" width="71.0" height="151.50" fill="none" stroke="#000" stroke-width="0.8"/>
<line x1="29.73" y1="764.50" x2="29.73" y2="766.50" stroke="#000" stroke-width="0.6"/>
<text x="29.73" y="773.65" font-size="6.46" text-anchor="middle" textLength="9.70" lengthAdjust="spacingAndGlyphs">0.0</text>
<line x1="62.00" y1="764.50" x2="62.00" y2="766.50" stroke="#000" stroke-width="0.6"/>
<text x="62.00" y="773.65" font-size="6.46" text-anchor="middle" textLength="9.70" lengthAdjust="spacingAndGlyphs">0.5</text>
<line x1="94.27" y1="764.50" x2="94.27" y2="766.50" stroke="#000" stroke-width="0.6"/>
<text x="94.27" y="773.65" font-size="6.46" text-anchor="middle" textLength="9.70" lengthAdjust="spacingAndGlyphs">1.0</text>
<line x1="24.50" y1="755.80" x2="26.50" y2="755.80" stroke="#000" stroke-width="0.6"/>
<text x="22.30" y="758.42" font-size="6.46" text-anchor="end" textLength="9.70" lengthAdjust="spacingAndGlyphs">0.2</text>
<line x1="24.50" y1="737.76" x2="26.50" y2="737.76" stroke="#000" stroke-width="0.6"/>
<text x="22.30" y="740.38" font-size="6.46" text-anchor="end" textLength="9.70" lengthAdjust="spacingAndGlyphs">0.3</text>
<line x1="24.50" y1="719.71" x2="26.50" y2="719.71" stroke="#000" stroke-width="0.6"/>
<text x="22.30" y="722.34" font-size="6.46" text-anchor="end" textLength="9.70" lengthAdjust="spacingAndGlyphs">0.4</text>
<line x1="24.50" y1="701.67" x2="26.50" y2="701.67" stroke="#000" stroke-width="0.6"/>
<text x="22.30" y="704.30" font-size="6.46" text-anchor="end" textLength="9.70" lengthAdjust="spacingAndGlyphs">0.5</text>
<line x1="24.50" y1="683.63" x2="26.50" y2="683.63" stroke="#000" stroke-width="0.6"/>
<text x="22.30" y="686.25" font-size="6.46" text-anchor="end" textLength="9.70" lengthAdjust="spacingAndGlyphs">0.6</text>
<line x1="24.50" y1="665.59" x2="26.50" y2="665.59" stroke="#000" stroke-width="0.6"/>
<text x="22.30" y="668.21" font-size="6.46" text-anchor="end" textLength="9.70" lengthAdjust="spacingAndGlyphs">0.7</text>
<line x1="24.50" y1="647.54" x2="26.50" y2="647.54" stroke="#000" stroke-width="0.6"/>
<text x="22.30" y="650.17" font-size="6.46" text-anchor="end" textLength="9.70" lengthAdjust="spacingAndGlyphs">0.8</text>
<line x1="24.50" y1="629.50" x2="26.50" y2="629.50" stroke="#000" stroke-width="0.6"/>
<text x="22.30" y="632.12" font-size="6.46" text-anchor="end" textLength="9.70" lengthAdjust="spacingAndGlyphs">0.9</text>
<text x="62.00" y="782.30" font-size="6.46" text-anchor="middle" textLength="58.97" lengthAdjust="spacingAndGlyphs">Standard Deviation</text>
<text x="8.90" y="688.75" font-size="6.46" text-anchor="middle" textLength="62.27" lengthAdjust="spacingAndGlyphs" transform="rotate(-90 8.90 688.75)">Mean Absolute Error</text>
<text x="62.00" y="601.50" font-size="7.76" text-anchor="middle" textLength="77.99" lengthAdjust="spacingAndGlyphs" class="t">Baseline model LSTM</text>
<text x="62.00" y="609.20" font-size="7.76" text-anchor="middle" textLength="61.05" lengthAdjust="spacingAndGlyphs" class="t">IS: 3.42 CE: 0.30</text>
<rect x="29.20" y="615.90" width="36.00" height="19.7" rx="1.2" fill="#fff" fill-opacity="0.8" stroke="#d8d8d8" stroke-width="0.5"/>
<line x1="31.00" y1="620.85" x2="44.10" y2="620.85" stroke="#1f77b4" stroke-width="1.1"/>
<line x1="31.00" y1="629.90" x2="44.10" y2="629.90" stroke="#ff7f0e" stroke-width="1.1"/>
<text x="48.80" y="622.90" font-size="6.46" text-anchor="start" textLength="15.53" lengthAdjust="spacingAndGlyphs">Train</text>
<text x="48.80" y="631.95" font-size="6.46" text-anchor="start" textLength="13.05" lengthAdjust="spacingAndGlyphs">Test</text>
<clipPath id="c11"><rect x="129.3" y="200.2" width="71.0" height="152.0"/></clipPath>
<polyline clip-path="url(#c11)" points="132.34,297.12 138.44,297.12 146.07,296.55 151.79,295.78 156.56,294.64 160.37,293.31 163.23,294.64 167.05,293.31 171.82,290.44 176.96,287.58 181.35,290.06 183.83,293.88 187.26,270.42 190.50,293.88 193.75,297.12 195.65,319.05 197.56,345.75" fill="none" stroke="#1f77b4" stroke-width="1.2" stroke-linejoin="round" stroke-linecap="butt"/>
<polyline clip-path="url(#c11)" points="132.34,251.73 138.44,251.35 142.26,249.44 147.98,244.68 152.74,238.95 156.56,235.14 160.37,228.47 165.14,222.74 168.00,218.93 169.91,216.07 172.77,215.12 176.58,212.26 180.40,207.49 183.26,213.21 187.07,217.02 190.50,220.84 191.84,250.40 193.36,299.98 193.75,324.77 195.65,332.40 197.56,337.17" fill="none" stroke="#ff7f0e" stroke-width="1.2" stroke-linejoin="round" stroke-linecap="butt"/>
<rect x="129.3" y="200.2" width="71.0" height="152.00" fill="none" stroke="#000" stroke-width="0.8"/>
<line x1="132.53" y1="352.20" x2="132.53" y2="354.20" stroke="#000" stroke-width="0.6"/>
<text x="132.53" y="361.35" font-size="6.46" text-anchor="middle" textLength="9.70" lengthAdjust="spacingAndGlyphs">0.0</text>
<line x1="164.80" y1="352.20" x2="164.80" y2="354.20" stroke="#000" stroke-width="0.6"/>
<text x="164.80" y="361.35" font-size="6.46" text-anchor="middle" textLength="9.70" lengthAdjust="spacingAndGlyphs">0.5</text>
<line x1="197.07" y1="352.20" x2="197.07" y2="354.20" stroke="#000" stroke-width="0.6"/>
<text x="197.07" y="361.35" font-size="6.46" text-anchor="middle" textLength="9.70" lengthAdjust="spacingAndGlyphs">1.0</text>
<line x1="127.30" y1="341.50" x2="129.30" y2="341.50" stroke="#000" stroke-width="0.6"/>
<text x="125.10" y="344.12" font-size="6.46" text-anchor="end" textLength="9.70" lengthAdjust="spacingAndGlyphs">0.1</text>
<line x1="127.30" y1="319.78" x2="129.30" y2="319.78" stroke="#000" stroke-width="0.6"/>
<text x="125.10" y="322.41" font-size="6.46" text-anchor="end" textLength="9.70" lengthAdjust="spacingAndGlyphs">0.2</text>
<line x1="127.30" y1="298.07" x2="129.30" y2="298.07" stroke="#000" stroke-width="0.6"/>
<text x="125.10" y="300.69" font-size="6.46" text-anchor="end" textLength="9.70" lengthAdjust="spacingAndGlyphs">0.3</text>
<line x1="127.30" y1="276.35" x2="129.30" y2="276.35" stroke="#000" stroke-width="0.6"/>
<text x="125.10" y="278.97" font-size="6.46" text-anchor="end" textLength="9.70" lengthAdjust="spacingAndGlyphs">0.4</text>
<line x1="127.30" y1="254.63" x2="129.30" y2="254.63" stroke="#000" stroke-width="0.6"/>
<text x="125.10" y="257.26" font-size="6.46" text-anchor="end" textLength="9.70" lengthAdjust="spacingAndGlyphs">0.5</text>
<line x1="127.30" y1="232.92" x2="129.30" y2="232.92" stroke="#000" stroke-width="0.6"/>
<text x="125.10" y="235.54" font-size="6.46" text-anchor="end" textLength="9.70" lengthAdjust="spacingAndGlyphs">0.6</text>
<line x1="127.30" y1="211.20" x2="129.30" y2="211.20" stroke="#000" stroke-width="0.6"/>
<text x="125.10" y="213.82" font-size="6.46" text-anchor="end" textLength="9.70" lengthAdjust="spacingAndGlyphs">0.7</text>
<text x="164.80" y="370.00" font-size="6.46" text-anchor="middle" textLength="58.97" lengthAdjust="spacingAndGlyphs">Standard Deviation</text>
<text x="112.50" y="276.20" font-size="6.46" text-anchor="middle" textLength="62.27" lengthAdjust="spacingAndGlyphs" transform="rotate(-90 112.50 276.20)">Mean Absolute Error</text>
<text x="164.80" y="188.70" font-size="7.76" text-anchor="middle" textLength="35.90" lengthAdjust="spacingAndGlyphs" class="t">Ensemble</text>
<text x="164.80" y="196.40" font-size="7.76" text-anchor="middle" textLength="61.05" lengthAdjust="spacingAndGlyphs" class="t">IS: 2.21 CE: 0.19</text>
<rect x="132.00" y="203.10" width="36.00" height="19.7" rx="1.2" fill="#fff" fill-opacity="0.8" stroke="#d8d8d8" stroke-width="0.5"/>
<line x1="133.80" y1="208.05" x2="146.90" y2="208.05" stroke="#1f77b4" stroke-width="1.1"/>
<line x1="133.80" y1="217.10" x2="146.90" y2="217.10" stroke="#ff7f0e" stroke-width="1.1"/>
<text x="151.60" y="210.10" font-size="6.46" text-anchor="start" textLength="15.53" lengthAdjust="spacingAndGlyphs">Train</text>
<text x="151.60" y="219.15" font-size="6.46" text-anchor="start" textLength="13.05" lengthAdjust="spacingAndGlyphs">Test</text>
<clipPath id="c31"><rect x="129.3" y="613.0" width="71.0" height="151.5"/></clipPath>
<polyline clip-path="url(#c31)" points="132.34,757.79 140.35,757.79 146.07,756.84 150.84,755.32 156.56,752.65 160.37,749.21 163.23,747.69 167.05,743.49 170.48,738.72 173.72,732.05 176.96,721.56 180.78,711.07 183.26,694.86 186.12,680.56 188.41,672.93 190.89,665.30 193.75,633.84 197.56,628.12" fill="none" stroke="#1f77b4" stroke-width="1.2" stroke-linejoin="round" stroke-linecap="butt"/>
<polyline clip-path="url(#c31)" points="132.34,697.34 136.54,697.34 142.26,693.53 146.07,687.23 149.88,682.47 153.70,679.61 157.51,677.13 160.37,677.70 163.23,680.94 167.05,689.14 170.48,700.58 173.72,696.20 176.96,678.27 180.40,681.51 184.21,690.10 187.07,650.05 190.89,624.30 194.13,624.30 197.94,619.54" fill="none" stroke="#ff7f0e" stroke-width="1.2" stroke-linejoin="round" stroke-linecap="butt"/>
<rect x="129.3" y="613.0" width="71.0" height="151.50" fill="none" stroke="#000" stroke-width="0.8"/>
<line x1="132.53" y1="764.50" x2="132.53" y2="766.50" stroke="#000" stroke-width="0.6"/>
<text x="132.53" y="773.65" font-size="6.46" text-anchor="middle" textLength="9.70" lengthAdjust="spacingAndGlyphs">0.0</text>
<line x1="164.80" y1="764.50" x2="164.80" y2="766.50" stroke="#000" stroke-width="0.6"/>
<text x="164.80" y="773.65" font-size="6.46" text-anchor="middle" textLength="9.70" lengthAdjust="spacingAndGlyphs">0.5</text>
<line x1="197.07" y1="764.50" x2="197.07" y2="766.50" stroke="#000" stroke-width="0.6"/>
<text x="197.07" y="773.65" font-size="6.46" text-anchor="middle" textLength="9.70" lengthAdjust="spacingAndGlyphs">1.0</text>
<line x1="127.30" y1="764.90" x2="129.30" y2="764.90" stroke="#000" stroke-width="0.6"/>
<text x="125.10" y="767.52" font-size="6.46" text-anchor="end" textLength="9.70" lengthAdjust="spacingAndGlyphs">0.2</text>
<line x1="127.30" y1="744.71" x2="129.30" y2="744.71" stroke="#000" stroke-width="0.6"/>
<text x="125.10" y="747.34" font-size="6.46" text-anchor="end" textLength="9.70" lengthAdjust="spacingAndGlyphs">0.3</text>
<line x1="127.30" y1="724.53" x2="129.30" y2="724.53" stroke="#000" stroke-width="0.6"/>
<text x="125.10" y="727.15" font-size="6.46" text-anchor="end" textLength="9.70" lengthAdjust="spacingAndGlyphs">0.4</text>
<line x1="127.30" y1="704.34" x2="129.30" y2="704.34" stroke="#000" stroke-width="0.6"/>
<text x="125.10" y="706.97" font-size="6.46" text-anchor="end" textLength="9.70" lengthAdjust="spacingAndGlyphs">0.5</text>
<line x1="127.30" y1="684.16" x2="129.30" y2="684.16" stroke="#000" stroke-width="0.6"/>
<text x="125.10" y="686.78" font-size="6.46" text-anchor="end" textLength="9.70" lengthAdjust="spacingAndGlyphs">0.6</text>
<line x1="127.30" y1="663.97" x2="129.30" y2="663.97" stroke="#000" stroke-width="0.6"/>
<text x="125.10" y="666.60" font-size="6.46" text-anchor="end" textLength="9.70" lengthAdjust="spacingAndGlyphs">0.7</text>
<line x1="127.30" y1="643.79" x2="129.30" y2="643.79" stroke="#000" stroke-width="0.6"/>
<text x="125.10" y="646.41" font-size="6.46" text-anchor="end" textLength="9.70" lengthAdjust="spacingAndGlyphs">0.8</text>
<line x1="127.30" y1="623.60" x2="129.30" y2="623.60" stroke="#000" stroke-width="0.6"/>
<text x="125.10" y="626.23" font-size="6.46" text-anchor="end" textLength="9.70" lengthAdjust="spacingAndGlyphs">0.9</text>
<text x="164.80" y="782.30" font-size="6.46" text-anchor="middle" textLength="58.97" lengthAdjust="spacingAndGlyphs">Standard Deviation</text>
<text x="112.10" y="688.75" font-size="6.46" text-anchor="middle" textLength="62.27" lengthAdjust="spacingAndGlyphs" transform="rotate(-90 112.10 688.75)">Mean Absolute Error</text>
<text x="164.80" y="601.50" font-size="7.76" text-anchor="middle" textLength="57.73" lengthAdjust="spacingAndGlyphs" class="t">Ensemble LSTM</text>
<text x="164.80" y="609.20" font-size="7.76" text-anchor="middle" textLength="61.05" lengthAdjust="spacingAndGlyphs" class="t">IS: 2.30 CE: 0.18</text>
<rect x="132.00" y="615.90" width="36.00" height="19.7" rx="1.2" fill="#fff" fill-opacity="0.8" stroke="#d8d8d8" stroke-width="0.5"/>
<line x1="133.80" y1="620.85" x2="146.90" y2="620.85" stroke="#1f77b4" stroke-width="1.1"/>
<line x1="133.80" y1="629.90" x2="146.90" y2="629.90" stroke="#ff7f0e" stroke-width="1.1"/>
<text x="151.60" y="622.90" font-size="6.46" text-anchor="start" textLength="15.53" lengthAdjust="spacingAndGlyphs">Train</text>
<text x="151.60" y="631.95" font-size="6.46" text-anchor="start" textLength="13.05" lengthAdjust="spacingAndGlyphs">Test</text>
<clipPath id="c12"><rect x="232.8" y="200.2" width="71.0" height="152.0"/></clipPath>
<polyline clip-path="url(#c12)" points="235.72,310.47 242.40,310.47 248.12,309.13 253.84,307.61 259.56,305.70 263.37,306.65 267.19,309.13 270.05,313.33 273.48,312.95 276.72,320.96 279.96,319.05 283.40,316.19 286.83,325.72 290.64,342.32 293.89,342.32 297.13,345.37 300.94,345.37" fill="none" stroke="#1f77b4" stroke-width="1.2" stroke-linejoin="round" stroke-linecap="butt"/>
<polyline clip-path="url(#c12)" points="235.72,298.07 240.49,297.69 245.26,295.78 249.07,292.35 252.88,287.58 256.70,278.05 260.51,269.47 263.37,262.79 266.23,258.98 269.09,252.30 272.91,241.82 276.72,228.47 280.54,219.88 283.78,207.49 287.21,211.30 290.64,231.33 293.89,281.86 296.75,251.92 300.94,251.92" fill="none" stroke="#ff7f0e" stroke-width="1.2" stroke-linejoin="round" stroke-linecap="butt"/>
<rect x="232.8" y="200.2" width="71.0" height="152.00" fill="none" stroke="#000" stroke-width="0.8"/>
<line x1="236.03" y1="352.20" x2="236.03" y2="354.20" stroke="#000" stroke-width="0.6"/>
<text x="236.03" y="361.35" font-size="6.46" text-anchor="middle" textLength="9.70" lengthAdjust="spacingAndGlyphs">0.0</text>
<line x1="268.30" y1="352.20" x2="268.30" y2="354.20" stroke="#000" stroke-width="0.6"/>
<text x="268.30" y="361.35" font-size="6.46" text-anchor="middle" textLength="9.70" lengthAdjust="spacingAndGlyphs">0.5</text>
<line x1="300.57" y1="352.20" x2="300.57" y2="354.20" stroke="#000" stroke-width="0.6"/>
<text x="300.57" y="361.35" font-size="6.46" text-anchor="middle" textLength="9.70" lengthAdjust="spacingAndGlyphs">1.0</text>
<line x1="230.80" y1="332.90" x2="232.80" y2="332.90" stroke="#000" stroke-width="0.6"/>
<text x="228.60" y="335.52" font-size="6.46" text-anchor="end" textLength="9.70" lengthAdjust="spacingAndGlyphs">0.2</text>
<line x1="230.80" y1="309.90" x2="232.80" y2="309.90" stroke="#000" stroke-width="0.6"/>
<text x="228.60" y="312.52" font-size="6.46" text-anchor="end" textLength="9.70" lengthAdjust="spacingAndGlyphs">0.4</text>
<line x1="230.80" y1="286.90" x2="232.80" y2="286.90" stroke="#000" stroke-width="0.6"/>
<text x="228.60" y="289.52" font-size="6.46" text-anchor="end" textLength="9.70" lengthAdjust="spacingAndGlyphs">0.6</text>
<line x1="230.80" y1="263.90" x2="232.80" y2="263.90" stroke="#000" stroke-width="0.6"/>
<text x="228.60" y="266.52" font-size="6.46" text-anchor="end" textLength="9.70" lengthAdjust="spacingAndGlyphs">0.8</text>
<line x1="230.80" y1="240.90" x2="232.80" y2="240.90" stroke="#000" stroke-width="0.6"/>
<text x="228.60" y="243.53" font-size="6.46" text-anchor="end" textLength="9.70" lengthAdjust="spacingAndGlyphs">1.0</text>
<line x1="230.80" y1="217.90" x2="232.80" y2="217.90" stroke="#000" stroke-width="0.6"/>
<text x="228.60" y="220.53" font-size="6.46" text-anchor="end" textLength="9.70" lengthAdjust="spacingAndGlyphs">1.2</text>
<text x="268.30" y="370.00" font-size="6.46" text-anchor="middle" textLength="58.97" lengthAdjust="spacingAndGlyphs">Standard Deviation</text>
<text x="216.00" y="276.20" font-size="6.46" text-anchor="middle" textLength="62.27" lengthAdjust="spacingAndGlyphs" transform="rotate(-90 216.00 276.20)">Mean Absolute Error</text>
<text x="268.30" y="188.70" font-size="7.76" text-anchor="middle" textLength="29.76" lengthAdjust="spacingAndGlyphs" class="t">Dropout</text>
<text x="268.30" y="196.40" font-size="7.76" text-anchor="middle" textLength="61.05" lengthAdjust="spacingAndGlyphs" class="t">IS: 2.49 CE: 0.26</text>
<rect x="235.50" y="203.10" width="36.00" height="19.7" rx="1.2" fill="#fff" fill-opacity="0.8" stroke="#d8d8d8" stroke-width="0.5"/>
<line x1="237.30" y1="208.05" x2="250.40" y2="208.05" stroke="#1f77b4" stroke-width="1.1"/>
<line x1="237.30" y1="217.10" x2="250.40" y2="217.10" stroke="#ff7f0e" stroke-width="1.1"/>
<text x="255.10" y="210.10" font-size="6.46" text-anchor="start" textLength="15.53" lengthAdjust="spacingAndGlyphs">Train</text>
<text x="255.10" y="219.15" font-size="6.46" text-anchor="start" textLength="13.05" lengthAdjust="spacingAndGlyphs">Test</text>
<clipPath id="c32"><rect x="232.8" y="613.0" width="71.0" height="151.5"/></clipPath>
<polyline clip-path="url(#c32)" points="235.72,745.40 241.44,745.02 247.16,744.06 252.88,743.49 258.61,743.11 263.37,743.87 267.19,742.54 271.95,742.54 276.72,742.92 280.54,743.49 283.78,741.97 287.21,745.78 290.64,750.17 293.89,747.31 297.13,754.55 300.94,758.37" fill="none" stroke="#1f77b4" stroke-width="1.2" stroke-linejoin="round" stroke-linecap="butt"/>
<polyline clip-path="url(#c32)" points="235.72,718.32 240.49,717.18 245.26,713.93 249.07,709.17 256.70,698.68 262.42,687.23 267.19,674.84 271.00,667.21 273.86,661.87 276.72,658.63 279.96,644.33 283.78,650.05 286.83,625.26 290.64,622.40 293.89,643.95 297.13,656.15 300.94,618.58" fill="none" stroke="#ff7f0e" stroke-width="1.2" stroke-linejoin="round" stroke-linecap="butt"/>
<rect x="232.8" y="613.0" width="71.0" height="151.50" fill="none" stroke="#000" stroke-width="0.8"/>
<line x1="236.03" y1="764.50" x2="236.03" y2="766.50" stroke="#000" stroke-width="0.6"/>
<text x="236.03" y="773.65" font-size="6.46" text-anchor="middle" textLength="9.70" lengthAdjust="spacingAndGlyphs">0.0</text>
<line x1="268.30" y1="764.50" x2="268.30" y2="766.50" stroke="#000" stroke-width="0.6"/>
<text x="268.30" y="773.65" font-size="6.46" text-anchor="middle" textLength="9.70" lengthAdjust="spacingAndGlyphs">0.5</text>
<line x1="300.57" y1="764.50" x2="300.57" y2="766.50" stroke="#000" stroke-width="0.6"/>
<text x="300.57" y="773.65" font-size="6.46" text-anchor="middle" textLength="9.70" lengthAdjust="spacingAndGlyphs">1.0</text>
<line x1="230.80" y1="755.80" x2="232.80" y2="755.80" stroke="#000" stroke-width="0.6"/>
<text x="228.60" y="758.42" font-size="6.46" text-anchor="end" textLength="9.70" lengthAdjust="spacingAndGlyphs">0.2</text>
<line x1="230.80" y1="736.54" x2="232.80" y2="736.54" stroke="#000" stroke-width="0.6"/>
<text x="228.60" y="739.17" font-size="6.46" text-anchor="end" textLength="9.70" lengthAdjust="spacingAndGlyphs">0.4</text>
<line x1="230.80" y1="717.29" x2="232.80" y2="717.29" stroke="#000" stroke-width="0.6"/>
<text x="228.60" y="719.91" font-size="6.46" text-anchor="end" textLength="9.70" lengthAdjust="spacingAndGlyphs">0.6</text>
<line x1="230.80" y1="698.03" x2="232.80" y2="698.03" stroke="#000" stroke-width="0.6"/>
<text x="228.60" y="700.65" font-size="6.46" text-anchor="end" textLength="9.70" lengthAdjust="spacingAndGlyphs">0.8</text>
<line x1="230.80" y1="678.77" x2="232.80" y2="678.77" stroke="#000" stroke-width="0.6"/>
<text x="228.60" y="681.40" font-size="6.46" text-anchor="end" textLength="9.70" lengthAdjust="spacingAndGlyphs">1.0</text>
<line x1="230.80" y1="659.51" x2="232.80" y2="659.51" stroke="#000" stroke-width="0.6"/>
<text x="228.60" y="662.14" font-size="6.46" text-anchor="end" textLength="9.70" lengthAdjust="spacingAndGlyphs">1.2</text>
<line x1="230.80" y1="640.26" x2="232.80" y2="640.26" stroke="#000" stroke-width="0.6"/>
<text x="228.60" y="642.88" font-size="6.46" text-anchor="end" textLength="9.70" lengthAdjust="spacingAndGlyphs">1.4</text>
<line x1="230.80" y1="621.00" x2="232.80" y2="621.00" stroke="#000" stroke-width="0.6"/>
<text x="228.60" y="623.62" font-size="6.46" text-anchor="end" textLength="9.70" lengthAdjust="spacingAndGlyphs">1.6</text>
<text x="268.30" y="782.30" font-size="6.46" text-anchor="middle" textLength="58.97" lengthAdjust="spacingAndGlyphs">Standard Deviation</text>
<text x="215.40" y="688.75" font-size="6.46" text-anchor="middle" textLength="62.27" lengthAdjust="spacingAndGlyphs" transform="rotate(-90 215.40 688.75)">Mean Absolute Error</text>
<text x="268.30" y="601.50" font-size="7.76" text-anchor="middle" textLength="51.60" lengthAdjust="spacingAndGlyphs" class="t">Dropout LSTM</text>
<text x="268.30" y="609.20" font-size="7.76" text-anchor="middle" textLength="61.05" lengthAdjust="spacingAndGlyphs" class="t">IS: 3.57 CE: 0.34</text>
<rect x="235.50" y="615.90" width="36.00" height="19.7" rx="1.2" fill="#fff" fill-opacity="0.8" stroke="#d8d8d8" stroke-width="0.5"/>
<line x1="237.30" y1="620.85" x2="250.40" y2="620.85" stroke="#1f77b4" stroke-width="1.1"/>
<line x1="237.30" y1="629.90" x2="250.40" y2="629.90" stroke="#ff7f0e" stroke-width="1.1"/>
<text x="255.10" y="622.90" font-size="6.46" text-anchor="start" textLength="15.53" lengthAdjust="spacingAndGlyphs">Train</text>
<text x="255.10" y="631.95" font-size="6.46" text-anchor="start" textLength="13.05" lengthAdjust="spacingAndGlyphs">Test</text>
<clipPath id="c13"><rect x="335.9" y="200.2" width="71.0" height="152.0"/></clipPath>
<polyline clip-path="url(#c13)" points="339.10,308.18 344.44,307.99 348.26,308.94 352.07,309.90 355.88,310.09 359.70,311.04 363.51,310.85 367.33,311.42 371.14,310.85 374.00,310.66 376.86,311.04 379.72,308.56 382.96,303.79 386.40,299.41 390.21,299.41 393.64,306.65 396.89,296.17 400.70,286.63 402.03,259.93 403.18,235.14 404.51,206.54" fill="none" stroke="#1f77b4" stroke-width="1.2" stroke-linejoin="round" stroke-linecap="butt"/>
<polyline clip-path="url(#c13)" points="339.10,309.13 344.44,310.47 349.21,314.28 353.98,317.14 359.70,320.00 364.47,322.86 369.23,325.72 373.43,328.97 376.86,327.63 380.68,327.06 384.49,330.49 387.35,338.12 390.21,345.37 394.03,332.40 396.89,320.58 400.70,344.79 404.51,344.79" fill="none" stroke="#ff7f0e" stroke-width="1.2" stroke-linejoin="round" stroke-linecap="butt"/>
<rect x="335.9" y="200.2" width="71.0" height="152.00" fill="none" stroke="#000" stroke-width="0.8"/>
<line x1="339.13" y1="352.20" x2="339.13" y2="354.20" stroke="#000" stroke-width="0.6"/>
<text x="339.13" y="361.35" font-size="6.46" text-anchor="middle" textLength="9.70" lengthAdjust="spacingAndGlyphs">0.0</text>
<line x1="371.40" y1="352.20" x2="371.40" y2="354.20" stroke="#000" stroke-width="0.6"/>
<text x="371.40" y="361.35" font-size="6.46" text-anchor="middle" textLength="9.70" lengthAdjust="spacingAndGlyphs">0.5</text>
<line x1="403.67" y1="352.20" x2="403.67" y2="354.20" stroke="#000" stroke-width="0.6"/>
<text x="403.67" y="361.35" font-size="6.46" text-anchor="middle" textLength="9.70" lengthAdjust="spacingAndGlyphs">1.0</text>
<line x1="333.90" y1="346.20" x2="335.90" y2="346.20" stroke="#000" stroke-width="0.6"/>
<text x="331.70" y="348.82" font-size="6.46" text-anchor="end" textLength="9.70" lengthAdjust="spacingAndGlyphs">0.4</text>
<line x1="333.90" y1="315.45" x2="335.90" y2="315.45" stroke="#000" stroke-width="0.6"/>
<text x="331.70" y="318.07" font-size="6.46" text-anchor="end" textLength="9.70" lengthAdjust="spacingAndGlyphs">0.6</text>
<line x1="333.90" y1="284.70" x2="335.90" y2="284.70" stroke="#000" stroke-width="0.6"/>
<text x="331.70" y="287.32" font-size="6.46" text-anchor="end" textLength="9.70" lengthAdjust="spacingAndGlyphs">0.8</text>
<line x1="333.90" y1="253.95" x2="335.90" y2="253.95" stroke="#000" stroke-width="0.6"/>
<text x="331.70" y="256.57" font-size="6.46" text-anchor="end" textLength="9.70" lengthAdjust="spacingAndGlyphs">1.0</text>
<line x1="333.90" y1="223.20" x2="335.90" y2="223.20" stroke="#000" stroke-width="0.6"/>
<text x="331.70" y="225.82" font-size="6.46" text-anchor="end" textLength="9.70" lengthAdjust="spacingAndGlyphs">1.2</text>
<text x="371.40" y="370.00" font-size="6.46" text-anchor="middle" textLength="58.97" lengthAdjust="spacingAndGlyphs">Standard Deviation</text>
<text x="318.80" y="276.20" font-size="6.46" text-anchor="middle" textLength="62.27" lengthAdjust="spacingAndGlyphs" transform="rotate(-90 318.80 276.20)">Mean Absolute Error</text>
<text x="371.40" y="188.70" font-size="7.76" text-anchor="middle" textLength="46.95" lengthAdjust="spacingAndGlyphs" class="t">Dropconnect</text>
<text x="371.40" y="196.40" font-size="7.76" text-anchor="middle" textLength="61.05" lengthAdjust="spacingAndGlyphs" class="t">IS: 3.67 CE: 0.30</text>
<rect x="338.60" y="203.10" width="36.00" height="19.7" rx="1.2" fill="#fff" fill-opacity="0.8" stroke="#d8d8d8" stroke-width="0.5"/>
<line x1="340.40" y1="208.05" x2="353.50" y2="208.05" stroke="#1f77b4" stroke-width="1.1"/>
<line x1="340.40" y1="217.10" x2="353.50" y2="217.10" stroke="#ff7f0e" stroke-width="1.1"/>
<text x="358.20" y="210.10" font-size="6.46" text-anchor="start" textLength="15.53" lengthAdjust="spacingAndGlyphs">Train</text>
<text x="358.20" y="219.15" font-size="6.46" text-anchor="start" textLength="13.05" lengthAdjust="spacingAndGlyphs">Test</text>
<clipPath id="c33"><rect x="335.9" y="613.0" width="71.0" height="151.5"/></clipPath>
<polyline clip-path="url(#c33)" points="339.10,734.91 344.44,734.34 350.16,733.00 355.88,731.10 361.61,728.24 367.33,725.38 371.14,724.42 374.00,724.04 377.82,719.65 380.68,714.51 383.54,710.12 387.35,707.64 390.21,702.49 394.03,696.77 397.46,692.96 400.70,691.05 402.03,678.65 403.56,663.40 404.51,651.95" fill="none" stroke="#1f77b4" stroke-width="1.2" stroke-linejoin="round" stroke-linecap="butt"/>
<polyline clip-path="url(#c33)" points="339.10,701.16 344.44,700.20 351.12,698.68 355.88,696.77 359.70,692.96 363.51,688.19 367.33,682.47 371.14,679.61 374.00,676.75 377.82,669.12 381.06,662.44 384.49,648.14 386.78,633.84 390.21,633.84 393.64,624.30 397.46,619.54 399.75,648.14 401.65,678.65 403.18,720.61 404.51,758.37" fill="none" stroke="#ff7f0e" stroke-width="1.2" stroke-linejoin="round" stroke-linecap="butt"/>
<rect x="335.9" y="613.0" width="71.0" height="151.50" fill="none" stroke="#000" stroke-width="0.8"/>
<line x1="339.13" y1="764.50" x2="339.13" y2="766.50" stroke="#000" stroke-width="0.6"/>
<text x="339.13" y="773.65" font-size="6.46" text-anchor="middle" textLength="9.70" lengthAdjust="spacingAndGlyphs">0.0</text>
<line x1="371.40" y1="764.50" x2="371.40" y2="766.50" stroke="#000" stroke-width="0.6"/>
<text x="371.40" y="773.65" font-size="6.46" text-anchor="middle" textLength="9.70" lengthAdjust="spacingAndGlyphs">0.5</text>
<line x1="403.67" y1="764.50" x2="403.67" y2="766.50" stroke="#000" stroke-width="0.6"/>
<text x="403.67" y="773.65" font-size="6.46" text-anchor="middle" textLength="9.70" lengthAdjust="spacingAndGlyphs">1.0</text>
<line x1="333.90" y1="749.50" x2="335.90" y2="749.50" stroke="#000" stroke-width="0.6"/>
<text x="331.70" y="752.12" font-size="6.46" text-anchor="end" textLength="9.70" lengthAdjust="spacingAndGlyphs">0.2</text>
<line x1="333.90" y1="722.00" x2="335.90" y2="722.00" stroke="#000" stroke-width="0.6"/>
<text x="331.70" y="724.62" font-size="6.46" text-anchor="end" textLength="9.70" lengthAdjust="spacingAndGlyphs">0.4</text>
<line x1="333.90" y1="694.50" x2="335.90" y2="694.50" stroke="#000" stroke-width="0.6"/>
<text x="331.70" y="697.12" font-size="6.46" text-anchor="end" textLength="9.70" lengthAdjust="spacingAndGlyphs">0.6</text>
<line x1="333.90" y1="667.00" x2="335.90" y2="667.00" stroke="#000" stroke-width="0.6"/>
<text x="331.70" y="669.62" font-size="6.46" text-anchor="end" textLength="9.70" lengthAdjust="spacingAndGlyphs">0.8</text>
<line x1="333.90" y1="639.50" x2="335.90" y2="639.50" stroke="#000" stroke-width="0.6"/>
<text x="331.70" y="642.12" font-size="6.46" text-anchor="end" textLength="9.70" lengthAdjust="spacingAndGlyphs">1.0</text>
<text x="371.40" y="782.30" font-size="6.46" text-anchor="middle" textLength="58.97" lengthAdjust="spacingAndGlyphs">Standard Deviation</text>
<text x="318.80" y="688.75" font-size="6.46" text-anchor="middle" textLength="62.27" lengthAdjust="spacingAndGlyphs" transform="rotate(-90 318.80 688.75)">Mean Absolute Error</text>
<text x="371.40" y="601.50" font-size="7.76" text-anchor="middle" textLength="68.79" lengthAdjust="spacingAndGlyphs" class="t">Dropconnect LSTM</text>
<text x="371.40" y="609.20" font-size="7.76" text-anchor="middle" textLength="61.05" lengthAdjust="spacingAndGlyphs" class="t">IS: 2.76 CE: 0.25</text>
<rect x="338.60" y="615.90" width="36.00" height="19.7" rx="1.2" fill="#fff" fill-opacity="0.8" stroke="#d8d8d8" stroke-width="0.5"/>
<line x1="340.40" y1="620.85" x2="353.50" y2="620.85" stroke="#1f77b4" stroke-width="1.1"/>
<line x1="340.40" y1="629.90" x2="353.50" y2="629.90" stroke="#ff7f0e" stroke-width="1.1"/>
<text x="358.20" y="622.90" font-size="6.46" text-anchor="start" textLength="15.53" lengthAdjust="spacingAndGlyphs">Train</text>
<text x="358.20" y="631.95" font-size="6.46" text-anchor="start" textLength="13.05" lengthAdjust="spacingAndGlyphs">Test</text>
<clipPath id="c14"><rect x="443.4" y="200.2" width="71.0" height="152.0"/></clipPath>
<polyline clip-path="url(#c14)" points="446.34,346.13 449.58,326.68 452.82,310.47 456.26,298.07 460.07,279.38 466.74,279.38 470.56,269.47 473.42,250.40 475.33,229.42 476.85,207.49 511.56,207.49" fill="none" stroke="#1f77b4" stroke-width="1.2" stroke-linejoin="round" stroke-linecap="butt"/>
<polyline clip-path="url(#c14)" points="446.34,346.13 449.58,326.68 452.82,310.47 456.64,296.17 460.07,250.40 470.56,250.40 472.47,225.61 474.37,215.50 511.56,215.50" fill="none" stroke="#ff7f0e" stroke-width="1.2" stroke-linejoin="round" stroke-linecap="butt"/>
<rect x="443.4" y="200.2" width="71.0" height="152.00" fill="none" stroke="#000" stroke-width="0.8"/>
<line x1="446.63" y1="352.20" x2="446.63" y2="354.20" stroke="#000" stroke-width="0.6"/>
<text x="446.63" y="361.35" font-size="6.46" text-anchor="middle" textLength="9.70" lengthAdjust="spacingAndGlyphs">0.0</text>
<line x1="478.90" y1="352.20" x2="478.90" y2="354.20" stroke="#000" stroke-width="0.6"/>
<text x="478.90" y="361.35" font-size="6.46" text-anchor="middle" textLength="9.70" lengthAdjust="spacingAndGlyphs">0.5</text>
<line x1="511.17" y1="352.20" x2="511.17" y2="354.20" stroke="#000" stroke-width="0.6"/>
<text x="511.17" y="361.35" font-size="6.46" text-anchor="middle" textLength="9.70" lengthAdjust="spacingAndGlyphs">1.0</text>
<line x1="441.40" y1="349.50" x2="443.40" y2="349.50" stroke="#000" stroke-width="0.6"/>
<text x="439.20" y="352.12" font-size="6.46" text-anchor="end" textLength="9.70" lengthAdjust="spacingAndGlyphs">0.0</text>
<line x1="441.40" y1="331.50" x2="443.40" y2="331.50" stroke="#000" stroke-width="0.6"/>
<text x="439.20" y="334.12" font-size="6.46" text-anchor="end" textLength="9.70" lengthAdjust="spacingAndGlyphs">2.5</text>
<line x1="441.40" y1="313.50" x2="443.40" y2="313.50" stroke="#000" stroke-width="0.6"/>
<text x="439.20" y="316.12" font-size="6.46" text-anchor="end" textLength="9.70" lengthAdjust="spacingAndGlyphs">5.0</text>
<line x1="441.40" y1="295.50" x2="443.40" y2="295.50" stroke="#000" stroke-width="0.6"/>
<text x="439.20" y="298.12" font-size="6.46" text-anchor="end" textLength="9.70" lengthAdjust="spacingAndGlyphs">7.5</text>
<line x1="441.40" y1="277.50" x2="443.40" y2="277.50" stroke="#000" stroke-width="0.6"/>
<text x="439.20" y="280.12" font-size="6.46" text-anchor="end" textLength="13.58" lengthAdjust="spacingAndGlyphs">10.0</text>
<line x1="441.40" y1="259.50" x2="443.40" y2="259.50" stroke="#000" stroke-width="0.6"/>
<text x="439.20" y="262.12" font-size="6.46" text-anchor="end" textLength="13.58" lengthAdjust="spacingAndGlyphs">12.5</text>
<line x1="441.40" y1="241.50" x2="443.40" y2="241.50" stroke="#000" stroke-width="0.6"/>
<text x="439.20" y="244.12" font-size="6.46" text-anchor="end" textLength="13.58" lengthAdjust="spacingAndGlyphs">15.0</text>
<line x1="441.40" y1="223.50" x2="443.40" y2="223.50" stroke="#000" stroke-width="0.6"/>
<text x="439.20" y="226.12" font-size="6.46" text-anchor="end" textLength="13.58" lengthAdjust="spacingAndGlyphs">17.5</text>
<line x1="441.40" y1="205.50" x2="443.40" y2="205.50" stroke="#000" stroke-width="0.6"/>
<text x="439.20" y="208.12" font-size="6.46" text-anchor="end" textLength="13.58" lengthAdjust="spacingAndGlyphs">20.0</text>
<text x="478.90" y="370.00" font-size="6.46" text-anchor="middle" textLength="58.97" lengthAdjust="spacingAndGlyphs">Standard Deviation</text>
<text x="422.20" y="276.20" font-size="6.46" text-anchor="middle" textLength="62.27" lengthAdjust="spacingAndGlyphs" transform="rotate(-90 422.20 276.20)">Mean Absolute Error</text>
<text x="478.90" y="188.70" font-size="7.76" text-anchor="middle" textLength="22.16" lengthAdjust="spacingAndGlyphs" class="t">Bayes</text>
<text x="478.90" y="196.40" font-size="7.76" text-anchor="middle" textLength="61.05" lengthAdjust="spacingAndGlyphs" class="t">IS: 4.01 CE: 0.39</text>
<rect x="446.10" y="203.10" width="36.00" height="19.7" rx="1.2" fill="#fff" fill-opacity="0.8" stroke="#d8d8d8" stroke-width="0.5"/>
<line x1="447.90" y1="208.05" x2="461.00" y2="208.05" stroke="#1f77b4" stroke-width="1.1"/>
<line x1="447.90" y1="217.10" x2="461.00" y2="217.10" stroke="#ff7f0e" stroke-width="1.1"/>
<text x="465.70" y="210.10" font-size="6.46" text-anchor="start" textLength="15.53" lengthAdjust="spacingAndGlyphs">Train</text>
<text x="465.70" y="219.15" font-size="6.46" text-anchor="start" textLength="13.05" lengthAdjust="spacingAndGlyphs">Test</text>
<clipPath id="c34"><rect x="443.4" y="613.0" width="71.0" height="151.5"/></clipPath>
<polyline clip-path="url(#c34)" points="446.34,757.79 449.58,746.35 456.26,727.28 463.88,708.21 469.61,690.10 474.37,674.84 477.23,660.54 480.67,654.24 483.91,630.41 490.58,630.41 494.40,619.92 511.56,619.92" fill="none" stroke="#1f77b4" stroke-width="1.2" stroke-linejoin="round" stroke-linecap="butt"/>
<polyline clip-path="url(#c34)" points="446.34,757.79 449.58,747.31 456.26,728.24 465.79,706.31 473.80,692.38 477.23,691.05 481.05,688.19 484.48,683.42 486.77,671.41 490.96,669.50 494.40,643.37 511.56,643.37" fill="none" stroke="#ff7f0e" stroke-width="1.2" stroke-linejoin="round" stroke-linecap="butt"/>
<rect x="443.4" y="613.0" width="71.0" height="151.50" fill="none" stroke="#000" stroke-width="0.8"/>
<line x1="446.63" y1="764.50" x2="446.63" y2="766.50" stroke="#000" stroke-width="0.6"/>
<text x="446.63" y="773.65" font-size="6.46" text-anchor="middle" textLength="9.70" lengthAdjust="spacingAndGlyphs">0.0</text>
<line x1="478.90" y1="764.50" x2="478.90" y2="766.50" stroke="#000" stroke-width="0.6"/>
<text x="478.90" y="773.65" font-size="6.46" text-anchor="middle" textLength="9.70" lengthAdjust="spacingAndGlyphs">0.5</text>
<line x1="511.17" y1="764.50" x2="511.17" y2="766.50" stroke="#000" stroke-width="0.6"/>
<text x="511.17" y="773.65" font-size="6.46" text-anchor="middle" textLength="9.70" lengthAdjust="spacingAndGlyphs">1.0</text>
<line x1="441.40" y1="746.60" x2="443.40" y2="746.60" stroke="#000" stroke-width="0.6"/>
<text x="439.20" y="749.23" font-size="6.46" text-anchor="end" textLength="9.70" lengthAdjust="spacingAndGlyphs">2.5</text>
<line x1="441.40" y1="726.27" x2="443.40" y2="726.27" stroke="#000" stroke-width="0.6"/>
<text x="439.20" y="728.89" font-size="6.46" text-anchor="end" textLength="9.70" lengthAdjust="spacingAndGlyphs">5.0</text>
<line x1="441.40" y1="705.93" x2="443.40" y2="705.93" stroke="#000" stroke-width="0.6"/>
<text x="439.20" y="708.56" font-size="6.46" text-anchor="end" textLength="9.70" lengthAdjust="spacingAndGlyphs">7.5</text>
<line x1="441.40" y1="685.60" x2="443.40" y2="685.60" stroke="#000" stroke-width="0.6"/>
<text x="439.20" y="688.23" font-size="6.46" text-anchor="end" textLength="13.58" lengthAdjust="spacingAndGlyphs">10.0</text>
<line x1="441.40" y1="665.27" x2="443.40" y2="665.27" stroke="#000" stroke-width="0.6"/>
<text x="439.20" y="667.89" font-size="6.46" text-anchor="end" textLength="13.58" lengthAdjust="spacingAndGlyphs">12.5</text>
<line x1="441.40" y1="644.93" x2="443.40" y2="644.93" stroke="#000" stroke-width="0.6"/>
<text x="439.20" y="647.56" font-size="6.46" text-anchor="end" textLength="13.58" lengthAdjust="spacingAndGlyphs">15.0</text>
<line x1="441.40" y1="624.60" x2="443.40" y2="624.60" stroke="#000" stroke-width="0.6"/>
<text x="439.20" y="627.23" font-size="6.46" text-anchor="end" textLength="13.58" lengthAdjust="spacingAndGlyphs">17.5</text>
<text x="478.90" y="782.30" font-size="6.46" text-anchor="middle" textLength="58.97" lengthAdjust="spacingAndGlyphs">Standard Deviation</text>
<text x="422.20" y="688.75" font-size="6.46" text-anchor="middle" textLength="62.27" lengthAdjust="spacingAndGlyphs" transform="rotate(-90 422.20 688.75)">Mean Absolute Error</text>
<text x="478.90" y="601.50" font-size="7.76" text-anchor="middle" textLength="44.00" lengthAdjust="spacingAndGlyphs" class="t">Bayes LSTM</text>
<text x="478.90" y="609.20" font-size="7.76" text-anchor="middle" textLength="61.05" lengthAdjust="spacingAndGlyphs" class="t">IS: 8.63 CE: 0.23</text>
<rect x="446.10" y="615.90" width="36.00" height="19.7" rx="1.2" fill="#fff" fill-opacity="0.8" stroke="#d8d8d8" stroke-width="0.5"/>
<line x1="447.90" y1="620.85" x2="461.00" y2="620.85" stroke="#1f77b4" stroke-width="1.1"/>
<line x1="447.90" y1="629.90" x2="461.00" y2="629.90" stroke="#ff7f0e" stroke-width="1.1"/>
<text x="465.70" y="622.90" font-size="6.46" text-anchor="start" textLength="15.53" lengthAdjust="spacingAndGlyphs">Train</text>
<text x="465.70" y="631.95" font-size="6.46" text-anchor="start" textLength="13.05" lengthAdjust="spacingAndGlyphs">Test</text>
<clipPath id="c15"><rect x="546.6" y="200.2" width="71.0" height="152.0"/></clipPath>
<polyline clip-path="url(#c15)" points="549.34,345.75 552.58,342.32 556.40,344.22 560.21,331.45 563.07,303.79 566.50,277.48 569.74,277.48 574.13,266.61 585.00,266.61 589.77,267.18 614.94,267.18" fill="none" stroke="#1f77b4" stroke-width="1.2" stroke-linejoin="round" stroke-linecap="butt"/>
<polyline clip-path="url(#c15)" points="549.72,269.47 552.58,217.02 556.40,208.44 560.21,218.93 563.07,226.56 566.88,269.47 570.70,263.36 573.56,263.36 577.37,250.78 587.48,250.78 590.72,270.42 597.78,270.42 601.21,334.69 614.94,334.69" fill="none" stroke="#ff7f0e" stroke-width="1.2" stroke-linejoin="round" stroke-linecap="butt"/>
<rect x="546.6" y="200.2" width="71.0" height="152.00" fill="none" stroke="#000" stroke-width="0.8"/>
<line x1="549.83" y1="352.20" x2="549.83" y2="354.20" stroke="#000" stroke-width="0.6"/>
<text x="549.83" y="361.35" font-size="6.46" text-anchor="middle" textLength="9.70" lengthAdjust="spacingAndGlyphs">0.0</text>
<line x1="582.10" y1="352.20" x2="582.10" y2="354.20" stroke="#000" stroke-width="0.6"/>
<text x="582.10" y="361.35" font-size="6.46" text-anchor="middle" textLength="9.70" lengthAdjust="spacingAndGlyphs">0.5</text>
<line x1="614.37" y1="352.20" x2="614.37" y2="354.20" stroke="#000" stroke-width="0.6"/>
<text x="614.37" y="361.35" font-size="6.46" text-anchor="middle" textLength="9.70" lengthAdjust="spacingAndGlyphs">1.0</text>
<line x1="544.60" y1="338.00" x2="546.60" y2="338.00" stroke="#000" stroke-width="0.6"/>
<text x="542.40" y="340.62" font-size="6.46" text-anchor="end" textLength="9.70" lengthAdjust="spacingAndGlyphs">0.3</text>
<line x1="544.60" y1="317.25" x2="546.60" y2="317.25" stroke="#000" stroke-width="0.6"/>
<text x="542.40" y="319.88" font-size="6.46" text-anchor="end" textLength="9.70" lengthAdjust="spacingAndGlyphs">0.4</text>
<line x1="544.60" y1="296.50" x2="546.60" y2="296.50" stroke="#000" stroke-width="0.6"/>
<text x="542.40" y="299.12" font-size="6.46" text-anchor="end" textLength="9.70" lengthAdjust="spacingAndGlyphs">0.5</text>
<line x1="544.60" y1="275.75" x2="546.60" y2="275.75" stroke="#000" stroke-width="0.6"/>
<text x="542.40" y="278.38" font-size="6.46" text-anchor="end" textLength="9.70" lengthAdjust="spacingAndGlyphs">0.6</text>
<line x1="544.60" y1="255.00" x2="546.60" y2="255.00" stroke="#000" stroke-width="0.6"/>
<text x="542.40" y="257.62" font-size="6.46" text-anchor="end" textLength="9.70" lengthAdjust="spacingAndGlyphs">0.7</text>
<line x1="544.60" y1="234.25" x2="546.60" y2="234.25" stroke="#000" stroke-width="0.6"/>
<text x="542.40" y="236.88" font-size="6.46" text-anchor="end" textLength="9.70" lengthAdjust="spacingAndGlyphs">0.8</text>
<line x1="544.60" y1="213.50" x2="546.60" y2="213.50" stroke="#000" stroke-width="0.6"/>
<text x="542.40" y="216.12" font-size="6.46" text-anchor="end" textLength="9.70" lengthAdjust="spacingAndGlyphs">0.9</text>
<text x="582.10" y="370.00" font-size="6.46" text-anchor="middle" textLength="58.97" lengthAdjust="spacingAndGlyphs">Standard Deviation</text>
<text x="529.60" y="276.20" font-size="6.46" text-anchor="middle" textLength="62.27" lengthAdjust="spacingAndGlyphs" transform="rotate(-90 529.60 276.20)">Mean Absolute Error</text>
<text x="582.10" y="188.70" font-size="7.76" text-anchor="middle" textLength="24.91" lengthAdjust="spacingAndGlyphs" class="t">Flipout</text>
<text x="582.10" y="196.40" font-size="7.76" text-anchor="middle" textLength="61.05" lengthAdjust="spacingAndGlyphs" class="t">IS: 4.44 CE: 0.41</text>
<rect x="549.30" y="203.10" width="36.00" height="19.7" rx="1.2" fill="#fff" fill-opacity="0.8" stroke="#d8d8d8" stroke-width="0.5"/>
<line x1="551.10" y1="208.05" x2="564.20" y2="208.05" stroke="#1f77b4" stroke-width="1.1"/>
<line x1="551.10" y1="217.10" x2="564.20" y2="217.10" stroke="#ff7f0e" stroke-width="1.1"/>
<text x="568.90" y="210.10" font-size="6.46" text-anchor="start" textLength="15.53" lengthAdjust="spacingAndGlyphs">Train</text>
<text x="568.90" y="219.15" font-size="6.46" text-anchor="start" textLength="13.05" lengthAdjust="spacingAndGlyphs">Test</text>
<clipPath id="c35"><rect x="546.6" y="613.0" width="71.0" height="151.5"/></clipPath>
<polyline clip-path="url(#c35)" points="549.72,757.79 553.15,708.78 560.21,708.78 563.07,690.10 566.50,671.03 580.62,671.03 584.05,654.24 587.48,654.24 590.72,619.92 614.94,619.92" fill="none" stroke="#1f77b4" stroke-width="1.2" stroke-linejoin="round" stroke-linecap="butt"/>
<polyline clip-path="url(#c35)" points="549.72,757.79 553.15,688.57 559.64,688.57 563.07,671.98 580.62,671.98 583.67,657.29 587.48,657.29 590.15,628.12 614.94,628.12" fill="none" stroke="#ff7f0e" stroke-width="1.2" stroke-linejoin="round" stroke-linecap="butt"/>
<rect x="546.6" y="613.0" width="71.0" height="151.50" fill="none" stroke="#000" stroke-width="0.8"/>
<line x1="549.83" y1="764.50" x2="549.83" y2="766.50" stroke="#000" stroke-width="0.6"/>
<text x="549.83" y="773.65" font-size="6.46" text-anchor="middle" textLength="9.70" lengthAdjust="spacingAndGlyphs">0.0</text>
<line x1="582.10" y1="764.50" x2="582.10" y2="766.50" stroke="#000" stroke-width="0.6"/>
<text x="582.10" y="773.65" font-size="6.46" text-anchor="middle" textLength="9.70" lengthAdjust="spacingAndGlyphs">0.5</text>
<line x1="614.37" y1="764.50" x2="614.37" y2="766.50" stroke="#000" stroke-width="0.6"/>
<text x="614.37" y="773.65" font-size="6.46" text-anchor="middle" textLength="9.70" lengthAdjust="spacingAndGlyphs">1.0</text>
<line x1="544.60" y1="760.00" x2="546.60" y2="760.00" stroke="#000" stroke-width="0.6"/>
<text x="542.40" y="762.62" font-size="6.46" text-anchor="end" textLength="3.88" lengthAdjust="spacingAndGlyphs">0</text>
<line x1="544.60" y1="738.42" x2="546.60" y2="738.42" stroke="#000" stroke-width="0.6"/>
<text x="542.40" y="741.04" font-size="6.46" text-anchor="end" textLength="7.76" lengthAdjust="spacingAndGlyphs">10</text>
<line x1="544.60" y1="716.83" x2="546.60" y2="716.83" stroke="#000" stroke-width="0.6"/>
<text x="542.40" y="719.46" font-size="6.46" text-anchor="end" textLength="7.76" lengthAdjust="spacingAndGlyphs">20</text>
<line x1="544.60" y1="695.25" x2="546.60" y2="695.25" stroke="#000" stroke-width="0.6"/>
<text x="542.40" y="697.88" font-size="6.46" text-anchor="end" textLength="7.76" lengthAdjust="spacingAndGlyphs">30</text>
<line x1="544.60" y1="673.67" x2="546.60" y2="673.67" stroke="#000" stroke-width="0.6"/>
<text x="542.40" y="676.29" font-size="6.46" text-anchor="end" textLength="7.76" lengthAdjust="spacingAndGlyphs">40</text>
<line x1="544.60" y1="652.08" x2="546.60" y2="652.08" stroke="#000" stroke-width="0.6"/>
<text x="542.40" y="654.71" font-size="6.46" text-anchor="end" textLength="7.76" lengthAdjust="spacingAndGlyphs">50</text>
<line x1="544.60" y1="630.50" x2="546.60" y2="630.50" stroke="#000" stroke-width="0.6"/>
<text x="542.40" y="633.12" font-size="6.46" text-anchor="end" textLength="7.76" lengthAdjust="spacingAndGlyphs">60</text>
<text x="582.10" y="782.30" font-size="6.46" text-anchor="middle" textLength="58.97" lengthAdjust="spacingAndGlyphs">Standard Deviation</text>
<text x="531.40" y="688.75" font-size="6.46" text-anchor="middle" textLength="62.27" lengthAdjust="spacingAndGlyphs" transform="rotate(-90 531.40 688.75)">Mean Absolute Error</text>
<text x="582.10" y="601.50" font-size="7.76" text-anchor="middle" textLength="46.75" lengthAdjust="spacingAndGlyphs" class="t">Flipout LSTM</text>
<text x="582.10" y="609.20" font-size="7.76" text-anchor="middle" textLength="61.05" lengthAdjust="spacingAndGlyphs" class="t">IS: 5.74 CE: 0.44</text>
<rect x="549.30" y="615.90" width="36.00" height="19.7" rx="1.2" fill="#fff" fill-opacity="0.8" stroke="#d8d8d8" stroke-width="0.5"/>
<line x1="551.10" y1="620.85" x2="564.20" y2="620.85" stroke="#1f77b4" stroke-width="1.1"/>
<line x1="551.10" y1="629.90" x2="564.20" y2="629.90" stroke="#ff7f0e" stroke-width="1.1"/>
<text x="568.90" y="622.90" font-size="6.46" text-anchor="start" textLength="15.53" lengthAdjust="spacingAndGlyphs">Train</text>
<text x="568.90" y="631.95" font-size="6.46" text-anchor="start" textLength="13.05" lengthAdjust="spacingAndGlyphs">Test</text>
<text x="248.0" y="401.8" font-size="19.6" font-family="Liberation Serif" text-anchor="start" style="stroke:none" textLength="132.0" lengthAdjust="spacingAndGlyphs">(a) MLP models</text>
<text x="241.6" y="813.7" font-size="19.6" font-family="Liberation Serif" text-anchor="start" style="stroke:none" textLength="145.0" lengthAdjust="spacingAndGlyphs">(b) LSTM models</text>
<rect x="0.5" y="836.8" width="5.5" height="2.2" fill="#000" fill-opacity="0.22"/>
<rect x="16" y="836.8" width="12" height="2.2" fill="#000" fill-opacity="0.22"/>
<rect x="35" y="836.8" width="8" height="2.2" fill="#000" fill-opacity="0.22"/>
<rect x="84" y="836.8" width="2.5" height="2.2" fill="#000" fill-opacity="0.22"/>
<rect x="95" y="836.8" width="6" height="2.2" fill="#000" fill-opacity="0.22"/>
<rect x="112" y="836.8" width="3" height="2.2" fill="#000" fill-opacity="0.22"/>
<rect x="117" y="836.8" width="23" height="2.2" fill="#000" fill-opacity="0.22"/>
<rect x="150" y="836.8" width="4" height="2.2" fill="#000" fill-opacity="0.22"/>
<rect x="199" y="836.8" width="2.5" height="2.2" fill="#000" fill-opacity="0.22"/>
<rect x="215" y="836.8" width="2.5" height="2.2" fill="#000" fill-opacity="0.22"/>
<rect x="356" y="836.8" width="2.5" height="2.2" fill="#000" fill-opacity="0.22"/>
<rect x="405" y="836.8" width="3" height="2.2" fill="#000" fill-opacity="0.22"/>
<rect x="411" y="836.8" width="2.5" height="2.2" fill="#000" fill-opacity="0.22"/>
<rect x="417" y="836.8" width="3" height="2.2" fill="#000" fill-opacity="0.22"/>
<rect x="453" y="836.8" width="2.5" height="2.2" fill="#000" fill-opacity="0.22"/>
<rect x="486" y="836.8" width="2.5" height="2.2" fill="#000" fill-opacity="0.22"/>
<rect x="511" y="836.8" width="3" height="2.2" fill="#000" fill-opacity="0.22"/>
<rect x="520" y="836.8" width="3" height="2.2" fill="#000" fill-opacity="0.22"/>
<rect x="530" y="836.8" width="2.5" height="2.2" fill="#000" fill-opacity="0.22"/>
<rect x="540" y="836.8" width="2.5" height="2.2" fill="#000" fill-opacity="0.22"/>
<rect x="547" y="836.8" width="2.5" height="2.2" fill="#000" fill-opacity="0.22"/>
<rect x="553" y="836.8" width="2.5" height="2.2" fill="#000" fill-opacity="0.22"/>
<rect x="594" y="836.8" width="2.5" height="2.2" fill="#000" fill-opacity="0.22"/>
</g>
</svg>
</body></html>
